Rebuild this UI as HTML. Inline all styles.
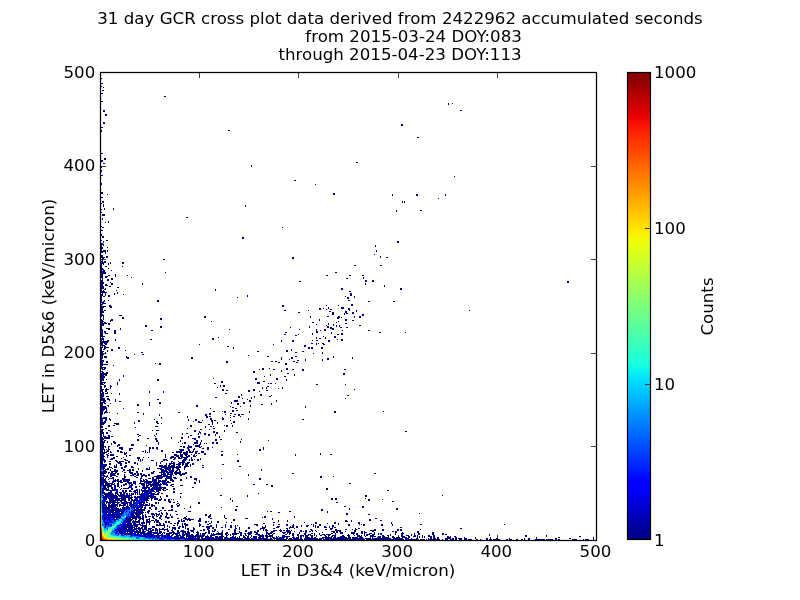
<!DOCTYPE html><html><head><meta charset="utf-8"><style>html,body{margin:0;padding:0;background:#fff;width:800px;height:600px;overflow:hidden}</style></head><body><svg width="800" height="600" viewBox="0 0 800 600" style="position:absolute;left:0;top:0"><defs><linearGradient id="jet" x1="0" y1="1" x2="0" y2="0"><stop offset="0.0000" stop-color="#000080"/><stop offset="0.0156" stop-color="#000092"/><stop offset="0.0312" stop-color="#0000a4"/><stop offset="0.0469" stop-color="#0000b6"/><stop offset="0.0625" stop-color="#0000c8"/><stop offset="0.0781" stop-color="#0000da"/><stop offset="0.0938" stop-color="#0000ed"/><stop offset="0.1094" stop-color="#0000ff"/><stop offset="0.1250" stop-color="#0001ff"/><stop offset="0.1406" stop-color="#0011ff"/><stop offset="0.1562" stop-color="#0021ff"/><stop offset="0.1719" stop-color="#0031ff"/><stop offset="0.1875" stop-color="#0041ff"/><stop offset="0.2031" stop-color="#0051ff"/><stop offset="0.2188" stop-color="#0061ff"/><stop offset="0.2344" stop-color="#0071ff"/><stop offset="0.2500" stop-color="#0081ff"/><stop offset="0.2656" stop-color="#0091ff"/><stop offset="0.2812" stop-color="#00a1ff"/><stop offset="0.2969" stop-color="#00b1ff"/><stop offset="0.3125" stop-color="#00c1ff"/><stop offset="0.3281" stop-color="#00d1ff"/><stop offset="0.3438" stop-color="#00e1fb"/><stop offset="0.3594" stop-color="#09f1ee"/><stop offset="0.3750" stop-color="#16ffe1"/><stop offset="0.3906" stop-color="#23ffd4"/><stop offset="0.4062" stop-color="#30ffc7"/><stop offset="0.4219" stop-color="#3cffba"/><stop offset="0.4375" stop-color="#49ffad"/><stop offset="0.4531" stop-color="#56ffa0"/><stop offset="0.4688" stop-color="#63ff94"/><stop offset="0.4844" stop-color="#70ff87"/><stop offset="0.5000" stop-color="#7dff7a"/><stop offset="0.5156" stop-color="#8aff6d"/><stop offset="0.5312" stop-color="#97ff60"/><stop offset="0.5469" stop-color="#a4ff53"/><stop offset="0.5625" stop-color="#b1ff46"/><stop offset="0.5781" stop-color="#beff39"/><stop offset="0.5938" stop-color="#caff2c"/><stop offset="0.6094" stop-color="#d7ff1f"/><stop offset="0.6250" stop-color="#e4ff13"/><stop offset="0.6406" stop-color="#f1fc06"/><stop offset="0.6562" stop-color="#feed00"/><stop offset="0.6719" stop-color="#ffde00"/><stop offset="0.6875" stop-color="#ffd000"/><stop offset="0.7031" stop-color="#ffc100"/><stop offset="0.7188" stop-color="#ffb200"/><stop offset="0.7344" stop-color="#ffa300"/><stop offset="0.7500" stop-color="#ff9400"/><stop offset="0.7656" stop-color="#ff8600"/><stop offset="0.7812" stop-color="#ff7700"/><stop offset="0.7969" stop-color="#ff6800"/><stop offset="0.8125" stop-color="#ff5900"/><stop offset="0.8281" stop-color="#ff4a00"/><stop offset="0.8438" stop-color="#ff3b00"/><stop offset="0.8594" stop-color="#ff2d00"/><stop offset="0.8750" stop-color="#ff1e00"/><stop offset="0.8906" stop-color="#fa0f00"/><stop offset="0.9062" stop-color="#e80000"/><stop offset="0.9219" stop-color="#d60000"/><stop offset="0.9375" stop-color="#c40000"/><stop offset="0.9531" stop-color="#b20000"/><stop offset="0.9688" stop-color="#9f0000"/><stop offset="0.9844" stop-color="#8d0000"/><stop offset="1.0000" stop-color="#800000"/></linearGradient></defs><rect x="0" y="0" width="800" height="600" fill="#fff"/><g shape-rendering="crispEdges"><path fill="#000080" d="M101 78h1v1h-1zM101 83h2v1h-2zM101 86h1v1h-1zM103 87h1v1h-1zM102 90h2v1h-2zM101 93h2v1h-2zM164 96h2v1h-2zM101 101h2v1h-2zM448 103h1v1h-1zM452 103h1v1h-1zM448 104h1v1h-1zM103 110h2v1h-2zM460 110h2v1h-2zM103 111h2v1h-2zM105 114h2v1h-2zM105 115h2v1h-2zM401 124h2v1h-2zM401 125h2v1h-2zM101 127h2v1h-2zM100 130h2v1h-2zM228 130h2v1h-2zM101 131h1v1h-1zM417 137h2v1h-2zM101 153h2v1h-2zM104 158h2v1h-2zM104 159h2v1h-2zM101 160h2v1h-2zM101 161h2v1h-2zM356 162h2v1h-2zM103 163h2v1h-2zM251 165h1v1h-1zM251 166h1v1h-1zM101 167h1v1h-1zM101 170h1v1h-1zM101 171h1v1h-1zM454 176h1v1h-1zM294 180h2v1h-2zM101 183h1v1h-1zM101 184h1v1h-1zM315 184h1v1h-1zM101 192h2v1h-2zM101 193h2v1h-2zM333 193h2v1h-2zM107 194h1v1h-1zM333 194h2v1h-2zM392 194h1v1h-1zM416 194h2v1h-2zM445 194h1v1h-1zM392 195h1v1h-1zM416 195h2v1h-2zM445 195h1v1h-1zM101 197h2v1h-2zM438 198h1v1h-1zM102 201h2v1h-2zM402 201h1v1h-1zM404 201h1v1h-1zM102 202h2v1h-2zM402 202h1v1h-1zM404 202h1v1h-1zM101 203h1v1h-1zM103 204h1v1h-1zM103 205h1v1h-1zM245 205h1v1h-1zM103 206h1v1h-1zM245 206h1v1h-1zM104 208h1v1h-1zM113 208h1v1h-1zM101 209h1v1h-1zM104 209h1v1h-1zM113 209h1v1h-1zM396 210h1v1h-1zM420 210h2v1h-2zM396 211h1v1h-1zM101 212h1v1h-1zM102 214h3v1h-3zM102 215h3v1h-3zM186 217h2v1h-2zM102 218h1v1h-1zM102 219h1v1h-1zM108 221h1v1h-1zM105 222h1v1h-1zM108 222h1v1h-1zM101 226h1v1h-1zM102 227h2v1h-2zM282 227h1v1h-1zM101 230h2v1h-2zM101 234h1v1h-1zM101 235h1v1h-1zM102 236h2v1h-2zM102 237h2v1h-2zM242 237h2v1h-2zM242 238h2v1h-2zM101 240h1v1h-1zM106 240h2v1h-2zM103 241h1v1h-1zM397 241h2v1h-2zM103 242h1v1h-1zM397 242h2v1h-2zM101 243h2v1h-2zM101 244h3v1h-3zM101 245h1v1h-1zM103 245h1v1h-1zM375 245h1v1h-1zM101 246h1v1h-1zM375 246h1v1h-1zM101 247h2v1h-2zM107 247h1v1h-1zM101 248h2v1h-2zM101 249h1v1h-1zM101 250h1v1h-1zM103 250h3v1h-3zM107 250h1v1h-1zM376 250h1v1h-1zM101 251h5v1h-5zM107 251h1v1h-1zM376 251h1v1h-1zM101 252h2v1h-2zM105 252h1v1h-1zM105 253h1v1h-1zM374 254h1v1h-1zM101 255h2v1h-2zM101 256h2v1h-2zM106 256h2v1h-2zM380 256h1v1h-1zM101 257h4v1h-4zM106 257h2v1h-2zM292 257h2v1h-2zM380 257h1v1h-1zM386 257h2v1h-2zM102 258h2v1h-2zM292 258h2v1h-2zM101 259h2v1h-2zM163 259h2v1h-2zM102 260h1v1h-1zM101 261h2v1h-2zM104 261h2v1h-2zM101 262h5v1h-5zM110 262h1v1h-1zM122 262h2v1h-2zM101 263h3v1h-3zM108 263h1v1h-1zM110 263h1v1h-1zM122 263h2v1h-2zM101 264h1v1h-1zM103 264h1v1h-1zM108 264h1v1h-1zM101 265h1v1h-1zM354 265h2v1h-2zM380 265h2v1h-2zM101 266h1v1h-1zM105 266h2v1h-2zM122 266h1v1h-1zM101 267h1v1h-1zM101 268h2v1h-2zM108 268h1v1h-1zM101 269h3v1h-3zM101 270h1v1h-1zM103 270h2v1h-2zM111 270h1v1h-1zM101 271h4v1h-4zM101 272h5v1h-5zM165 272h1v1h-1zM335 272h2v1h-2zM101 273h5v1h-5zM101 274h2v1h-2zM115 274h1v1h-1zM101 275h2v1h-2zM108 275h2v1h-2zM115 275h1v1h-1zM127 275h1v1h-1zM326 275h2v1h-2zM349 275h2v1h-2zM362 275h2v1h-2zM101 276h2v1h-2zM105 276h3v1h-3zM115 276h1v1h-1zM101 277h2v1h-2zM105 277h2v1h-2zM131 277h1v1h-1zM363 277h1v1h-1zM102 278h1v1h-1zM111 278h2v1h-2zM346 278h2v1h-2zM363 278h1v1h-1zM102 279h1v1h-1zM107 279h2v1h-2zM111 279h2v1h-2zM101 280h2v1h-2zM107 280h2v1h-2zM365 280h2v1h-2zM372 280h2v1h-2zM101 281h2v1h-2zM299 281h2v1h-2zM365 281h2v1h-2zM372 281h2v1h-2zM567 281h2v1h-2zM101 282h3v1h-3zM110 282h1v1h-1zM567 282h2v1h-2zM101 283h3v1h-3zM111 283h2v1h-2zM142 283h1v1h-1zM365 283h1v1h-1zM101 284h2v1h-2zM105 284h2v1h-2zM111 284h2v1h-2zM142 284h1v1h-1zM365 284h1v1h-1zM101 285h2v1h-2zM105 285h3v1h-3zM384 285h1v1h-1zM101 286h3v1h-3zM109 286h2v1h-2zM384 286h1v1h-1zM101 287h3v1h-3zM117 287h2v1h-2zM101 288h3v1h-3zM105 288h1v1h-1zM341 288h2v1h-2zM400 288h2v1h-2zM101 289h1v1h-1zM104 289h2v1h-2zM215 289h1v1h-1zM341 289h2v1h-2zM400 289h2v1h-2zM101 290h1v1h-1zM103 290h1v1h-1zM116 290h1v1h-1zM215 290h1v1h-1zM101 291h4v1h-4zM349 291h2v1h-2zM101 292h6v1h-6zM117 292h1v1h-1zM102 293h1v1h-1zM105 293h1v1h-1zM114 293h1v1h-1zM117 293h1v1h-1zM350 293h2v1h-2zM101 294h2v1h-2zM105 294h1v1h-1zM114 294h1v1h-1zM123 294h1v1h-1zM350 294h2v1h-2zM101 295h2v1h-2zM105 295h1v1h-1zM108 295h2v1h-2zM247 295h1v1h-1zM350 295h2v1h-2zM101 296h1v1h-1zM103 296h2v1h-2zM108 296h2v1h-2zM247 296h1v1h-1zM345 296h1v1h-1zM354 296h1v1h-1zM101 297h1v1h-1zM237 297h1v1h-1zM347 297h2v1h-2zM354 297h1v1h-1zM101 298h1v1h-1zM347 298h2v1h-2zM101 299h1v1h-1zM101 300h1v1h-1zM104 300h1v1h-1zM108 300h1v1h-1zM157 300h2v1h-2zM348 300h2v1h-2zM101 301h1v1h-1zM103 301h2v1h-2zM157 301h2v1h-2zM368 301h2v1h-2zM393 301h2v1h-2zM101 302h3v1h-3zM102 303h4v1h-4zM101 304h2v1h-2zM351 304h2v1h-2zM101 305h1v1h-1zM109 305h2v1h-2zM282 305h2v1h-2zM326 305h1v1h-1zM338 305h1v1h-1zM351 305h2v1h-2zM101 306h5v1h-5zM109 306h3v1h-3zM282 306h2v1h-2zM101 307h3v1h-3zM110 307h2v1h-2zM328 307h1v1h-1zM341 307h3v1h-3zM101 308h2v1h-2zM319 308h2v1h-2zM323 308h1v1h-1zM328 308h1v1h-1zM341 308h3v1h-3zM348 308h2v1h-2zM101 309h2v1h-2zM319 309h2v1h-2zM326 309h1v1h-1zM330 309h2v1h-2zM348 309h2v1h-2zM101 310h2v1h-2zM104 310h2v1h-2zM284 310h2v1h-2zM308 310h1v1h-1zM349 310h1v1h-1zM356 310h1v1h-1zM469 310h1v1h-1zM101 311h3v1h-3zM329 311h2v1h-2zM345 311h2v1h-2zM356 311h1v1h-1zM101 312h3v1h-3zM298 312h2v1h-2zM332 312h2v1h-2zM345 312h2v1h-2zM352 312h2v1h-2zM101 313h1v1h-1zM332 313h2v1h-2zM344 313h1v1h-1zM346 313h2v1h-2zM352 313h2v1h-2zM101 314h2v1h-2zM332 314h2v1h-2zM344 314h1v1h-1zM362 314h2v1h-2zM101 315h3v1h-3zM119 315h3v1h-3zM362 315h2v1h-2zM101 316h1v1h-1zM103 316h1v1h-1zM204 316h2v1h-2zM310 316h1v1h-1zM327 316h2v1h-2zM338 316h2v1h-2zM354 316h1v1h-1zM359 316h2v1h-2zM103 317h1v1h-1zM122 317h2v1h-2zM204 317h2v1h-2zM310 317h1v1h-1zM337 317h3v1h-3zM341 317h1v1h-1zM354 317h1v1h-1zM359 317h2v1h-2zM103 318h1v1h-1zM122 318h2v1h-2zM160 318h2v1h-2zM337 318h2v1h-2zM101 319h1v1h-1zM103 319h1v1h-1zM111 319h2v1h-2zM160 319h2v1h-2zM319 319h1v1h-1zM345 319h2v1h-2zM101 320h2v1h-2zM110 320h3v1h-3zM319 320h1v1h-1zM345 320h2v1h-2zM352 320h2v1h-2zM101 321h3v1h-3zM110 321h1v1h-1zM211 321h1v1h-1zM338 321h1v1h-1zM101 322h2v1h-2zM104 322h2v1h-2zM312 322h2v1h-2zM336 322h1v1h-1zM101 323h6v1h-6zM108 323h2v1h-2zM328 323h1v1h-1zM345 323h2v1h-2zM101 324h3v1h-3zM108 324h2v1h-2zM316 324h1v1h-1zM328 324h1v1h-1zM101 325h3v1h-3zM145 325h2v1h-2zM336 325h1v1h-1zM359 325h2v1h-2zM101 326h1v1h-1zM145 326h2v1h-2zM160 326h2v1h-2zM309 326h1v1h-1zM327 326h2v1h-2zM336 326h1v1h-1zM101 327h1v1h-1zM160 327h2v1h-2zM290 327h1v1h-1zM309 327h1v1h-1zM327 327h2v1h-2zM330 327h2v1h-2zM340 327h2v1h-2zM346 327h2v1h-2zM101 328h1v1h-1zM106 328h4v1h-4zM120 328h1v1h-1zM330 328h4v1h-4zM101 329h2v1h-2zM108 329h2v1h-2zM120 329h1v1h-1zM229 329h1v1h-1zM299 329h1v1h-1zM316 329h1v1h-1zM324 329h2v1h-2zM332 329h2v1h-2zM101 330h2v1h-2zM114 330h2v1h-2zM151 330h2v1h-2zM316 330h1v1h-1zM320 330h1v1h-1zM324 330h2v1h-2zM342 330h1v1h-1zM368 330h2v1h-2zM104 331h2v1h-2zM114 331h2v1h-2zM316 331h2v1h-2zM104 332h2v1h-2zM114 332h2v1h-2zM285 332h2v1h-2zM316 332h2v1h-2zM331 332h1v1h-1zM379 332h2v1h-2zM405 332h1v1h-1zM101 333h2v1h-2zM105 333h3v1h-3zM114 333h2v1h-2zM312 333h1v1h-1zM331 333h1v1h-1zM341 333h2v1h-2zM101 334h2v1h-2zM284 334h2v1h-2zM298 334h1v1h-1zM312 334h1v1h-1zM337 334h2v1h-2zM341 334h2v1h-2zM101 335h2v1h-2zM101 336h4v1h-4zM323 336h1v1h-1zM334 336h2v1h-2zM102 337h1v1h-1zM218 337h1v1h-1zM316 337h1v1h-1zM325 337h1v1h-1zM334 337h2v1h-2zM101 338h3v1h-3zM212 338h2v1h-2zM316 338h1v1h-1zM319 338h2v1h-2zM325 338h1v1h-1zM101 339h3v1h-3zM115 339h1v1h-1zM150 339h2v1h-2zM212 339h2v1h-2zM337 339h1v1h-1zM341 339h2v1h-2zM101 340h1v1h-1zM103 340h1v1h-1zM107 340h2v1h-2zM115 340h1v1h-1zM281 340h1v1h-1zM292 340h2v1h-2zM312 340h1v1h-1zM316 340h2v1h-2zM328 340h2v1h-2zM341 340h2v1h-2zM101 341h8v1h-8zM281 341h1v1h-1zM292 341h2v1h-2zM328 341h2v1h-2zM101 342h7v1h-7zM101 343h2v1h-2zM104 343h3v1h-3zM316 343h1v1h-1zM318 343h1v1h-1zM322 343h2v1h-2zM101 344h2v1h-2zM105 344h2v1h-2zM199 344h1v1h-1zM273 344h1v1h-1zM316 344h1v1h-1zM323 344h2v1h-2zM101 345h4v1h-4zM304 345h2v1h-2zM102 346h1v1h-1zM104 346h2v1h-2zM227 346h2v1h-2zM304 346h2v1h-2zM101 347h2v1h-2zM104 347h5v1h-5zM118 347h2v1h-2zM233 347h1v1h-1zM308 347h2v1h-2zM311 347h2v1h-2zM321 347h2v1h-2zM104 348h2v1h-2zM118 348h2v1h-2zM233 348h1v1h-1zM308 348h2v1h-2zM311 348h2v1h-2zM321 348h2v1h-2zM101 349h1v1h-1zM103 349h2v1h-2zM111 349h2v1h-2zM291 349h1v1h-1zM101 350h1v1h-1zM107 350h1v1h-1zM111 350h2v1h-2zM125 350h1v1h-1zM286 350h2v1h-2zM291 350h1v1h-1zM101 351h3v1h-3zM107 351h1v1h-1zM257 351h2v1h-2zM286 351h2v1h-2zM302 351h2v1h-2zM101 352h2v1h-2zM105 352h1v1h-1zM141 352h2v1h-2zM295 352h2v1h-2zM322 352h1v1h-1zM101 353h2v1h-2zM105 353h1v1h-1zM313 353h1v1h-1zM322 353h1v1h-1zM101 354h3v1h-3zM134 354h1v1h-1zM142 354h2v1h-2zM101 355h2v1h-2zM248 355h1v1h-1zM101 356h2v1h-2zM104 356h3v1h-3zM126 356h1v1h-1zM267 356h2v1h-2zM295 356h2v1h-2zM333 356h1v1h-1zM101 357h2v1h-2zM104 357h3v1h-3zM126 357h3v1h-3zM191 357h2v1h-2zM281 357h1v1h-1zM291 357h2v1h-2zM333 357h1v1h-1zM352 357h1v1h-1zM101 358h2v1h-2zM127 358h2v1h-2zM191 358h2v1h-2zM281 358h1v1h-1zM291 358h2v1h-2zM327 358h2v1h-2zM352 358h1v1h-1zM101 359h1v1h-1zM281 359h1v1h-1zM289 359h1v1h-1zM305 359h1v1h-1zM322 359h1v1h-1zM327 359h2v1h-2zM101 360h3v1h-3zM297 360h2v1h-2zM305 360h1v1h-1zM322 360h1v1h-1zM101 361h3v1h-3zM106 361h2v1h-2zM226 361h2v1h-2zM271 361h2v1h-2zM275 361h2v1h-2zM293 361h2v1h-2zM101 362h2v1h-2zM106 362h2v1h-2zM226 362h2v1h-2zM278 362h2v1h-2zM296 362h2v1h-2zM101 363h2v1h-2zM155 363h1v1h-1zM159 363h2v1h-2zM285 363h2v1h-2zM101 364h7v1h-7zM159 364h2v1h-2zM285 364h2v1h-2zM101 365h2v1h-2zM113 365h1v1h-1zM101 366h1v1h-1zM101 367h5v1h-5zM101 368h2v1h-2zM104 368h2v1h-2zM262 368h2v1h-2zM269 368h1v1h-1zM286 368h2v1h-2zM102 369h3v1h-3zM259 369h1v1h-1zM262 369h2v1h-2zM273 369h2v1h-2zM286 369h2v1h-2zM292 369h2v1h-2zM302 369h2v1h-2zM344 369h2v1h-2zM281 370h1v1h-1zM302 370h2v1h-2zM101 371h2v1h-2zM253 371h2v1h-2zM281 371h1v1h-1zM102 372h2v1h-2zM106 372h2v1h-2zM253 372h2v1h-2zM101 373h7v1h-7zM287 373h2v1h-2zM343 373h2v1h-2zM101 374h6v1h-6zM270 374h1v1h-1zM294 374h1v1h-1zM343 374h2v1h-2zM101 375h3v1h-3zM105 375h2v1h-2zM123 375h1v1h-1zM270 375h1v1h-1zM294 375h1v1h-1zM101 376h4v1h-4zM123 376h1v1h-1zM264 376h1v1h-1zM284 376h2v1h-2zM101 377h4v1h-4zM101 378h3v1h-3zM213 378h1v1h-1zM255 378h2v1h-2zM276 378h2v1h-2zM101 379h3v1h-3zM106 379h1v1h-1zM119 379h1v1h-1zM157 379h2v1h-2zM255 379h2v1h-2zM276 379h2v1h-2zM286 379h1v1h-1zM101 380h3v1h-3zM119 380h1v1h-1zM157 380h2v1h-2zM286 380h1v1h-1zM101 381h1v1h-1zM221 381h2v1h-2zM263 381h2v1h-2zM101 382h5v1h-5zM117 382h1v1h-1zM221 382h2v1h-2zM257 382h3v1h-3zM101 383h2v1h-2zM104 383h1v1h-1zM117 383h1v1h-1zM214 383h2v1h-2zM257 383h3v1h-3zM268 383h1v1h-1zM270 383h2v1h-2zM275 383h1v1h-1zM101 384h3v1h-3zM117 384h1v1h-1zM316 384h2v1h-2zM345 384h1v1h-1zM104 385h2v1h-2zM110 385h1v1h-1zM220 385h1v1h-1zM223 385h2v1h-2zM101 386h1v1h-1zM104 386h2v1h-2zM110 386h2v1h-2zM220 386h1v1h-1zM223 386h2v1h-2zM267 386h2v1h-2zM101 387h1v1h-1zM104 387h1v1h-1zM110 387h1v1h-1zM217 387h1v1h-1zM262 387h1v1h-1zM266 387h1v1h-1zM282 387h1v1h-1zM101 388h1v1h-1zM106 388h1v1h-1zM110 388h1v1h-1zM262 388h1v1h-1zM266 388h1v1h-1zM278 388h1v1h-1zM282 388h1v1h-1zM101 389h3v1h-3zM105 389h4v1h-4zM222 389h2v1h-2zM253 389h2v1h-2zM354 389h1v1h-1zM101 390h2v1h-2zM105 390h2v1h-2zM222 390h2v1h-2zM226 390h2v1h-2zM248 390h2v1h-2zM253 390h2v1h-2zM266 390h2v1h-2zM101 391h2v1h-2zM105 391h2v1h-2zM149 391h1v1h-1zM163 391h1v1h-1zM248 391h2v1h-2zM259 391h1v1h-1zM102 392h2v1h-2zM107 392h1v1h-1zM149 392h1v1h-1zM163 392h1v1h-1zM101 393h3v1h-3zM105 393h3v1h-3zM111 393h1v1h-1zM119 393h1v1h-1zM225 393h2v1h-2zM101 394h3v1h-3zM119 394h1v1h-1zM241 394h1v1h-1zM260 394h2v1h-2zM101 395h3v1h-3zM241 395h1v1h-1zM260 395h2v1h-2zM271 395h1v1h-1zM347 395h2v1h-2zM101 396h3v1h-3zM106 396h3v1h-3zM238 396h2v1h-2zM254 396h1v1h-1zM269 396h2v1h-2zM101 397h2v1h-2zM215 397h2v1h-2zM238 397h2v1h-2zM251 397h1v1h-1zM254 397h1v1h-1zM101 398h4v1h-4zM107 398h2v1h-2zM242 398h1v1h-1zM251 398h1v1h-1zM345 398h1v1h-1zM101 399h4v1h-4zM107 399h3v1h-3zM115 399h1v1h-1zM157 399h2v1h-2zM247 399h1v1h-1zM101 400h5v1h-5zM109 400h1v1h-1zM115 400h1v1h-1zM234 400h4v1h-4zM249 400h2v1h-2zM276 400h1v1h-1zM103 401h3v1h-3zM115 401h1v1h-1zM119 401h2v1h-2zM234 401h4v1h-4zM249 401h2v1h-2zM276 401h1v1h-1zM102 402h3v1h-3zM149 402h1v1h-1zM159 402h2v1h-2zM231 402h1v1h-1zM243 402h2v1h-2zM101 403h2v1h-2zM104 403h2v1h-2zM110 403h1v1h-1zM149 403h1v1h-1zM159 403h2v1h-2zM231 403h1v1h-1zM237 403h2v1h-2zM243 403h2v1h-2zM271 403h1v1h-1zM101 404h2v1h-2zM137 404h2v1h-2zM149 404h1v1h-1zM237 404h2v1h-2zM261 404h2v1h-2zM271 404h1v1h-1zM101 405h2v1h-2zM107 405h2v1h-2zM137 405h2v1h-2zM149 405h1v1h-1zM196 405h2v1h-2zM250 405h1v1h-1zM101 406h5v1h-5zM108 406h1v1h-1zM196 406h2v1h-2zM230 406h1v1h-1zM240 406h1v1h-1zM250 406h1v1h-1zM305 406h1v1h-1zM101 407h6v1h-6zM232 407h2v1h-2zM305 407h1v1h-1zM101 408h4v1h-4zM106 408h1v1h-1zM123 408h1v1h-1zM210 408h1v1h-1zM235 408h2v1h-2zM102 409h3v1h-3zM106 409h1v1h-1zM102 410h2v1h-2zM106 410h1v1h-1zM232 410h2v1h-2zM236 410h2v1h-2zM101 411h2v1h-2zM105 411h2v1h-2zM213 411h2v1h-2zM222 411h1v1h-1zM224 411h2v1h-2zM232 411h2v1h-2zM249 411h1v1h-1zM334 411h2v1h-2zM383 411h1v1h-1zM101 412h2v1h-2zM104 412h4v1h-4zM109 412h1v1h-1zM137 412h2v1h-2zM178 412h2v1h-2zM224 412h2v1h-2zM249 412h1v1h-1zM334 412h2v1h-2zM101 413h2v1h-2zM104 413h1v1h-1zM117 413h1v1h-1zM143 413h1v1h-1zM209 413h2v1h-2zM230 413h2v1h-2zM101 414h2v1h-2zM143 414h1v1h-1zM159 414h1v1h-1zM205 414h2v1h-2zM209 414h2v1h-2zM225 414h1v1h-1zM234 414h2v1h-2zM238 414h2v1h-2zM241 414h3v1h-3zM159 415h1v1h-1zM205 415h2v1h-2zM230 415h1v1h-1zM238 415h2v1h-2zM187 416h1v1h-1zM206 416h2v1h-2zM233 416h2v1h-2zM240 416h1v1h-1zM101 417h1v1h-1zM103 417h4v1h-4zM161 417h1v1h-1zM187 417h1v1h-1zM206 417h2v1h-2zM222 417h1v1h-1zM230 417h1v1h-1zM101 418h6v1h-6zM109 418h1v1h-1zM161 418h1v1h-1zM210 418h2v1h-2zM222 418h2v1h-2zM248 418h1v1h-1zM101 419h2v1h-2zM105 419h2v1h-2zM109 419h2v1h-2zM154 419h1v1h-1zM188 419h1v1h-1zM195 419h2v1h-2zM210 419h2v1h-2zM222 419h2v1h-2zM248 419h1v1h-1zM302 419h2v1h-2zM101 420h2v1h-2zM105 420h2v1h-2zM110 420h1v1h-1zM138 420h2v1h-2zM188 420h1v1h-1zM195 420h2v1h-2zM202 420h1v1h-1zM211 420h2v1h-2zM214 420h2v1h-2zM230 420h1v1h-1zM104 421h2v1h-2zM138 421h2v1h-2zM156 421h2v1h-2zM193 421h1v1h-1zM198 421h2v1h-2zM211 421h2v1h-2zM233 421h2v1h-2zM103 422h3v1h-3zM134 422h1v1h-1zM156 422h2v1h-2zM198 422h4v1h-4zM212 422h1v1h-1zM217 422h1v1h-1zM233 422h2v1h-2zM101 423h4v1h-4zM114 423h5v1h-5zM134 423h1v1h-1zM157 423h2v1h-2zM161 423h1v1h-1zM212 423h1v1h-1zM217 423h1v1h-1zM231 423h1v1h-1zM101 424h3v1h-3zM116 424h3v1h-3zM208 424h2v1h-2zM212 424h1v1h-1zM101 425h1v1h-1zM108 425h2v1h-2zM113 425h2v1h-2zM190 425h2v1h-2zM224 425h1v1h-1zM226 425h2v1h-2zM232 425h1v1h-1zM101 426h2v1h-2zM108 426h2v1h-2zM155 426h3v1h-3zM190 426h2v1h-2zM205 426h1v1h-1zM210 426h2v1h-2zM213 426h1v1h-1zM226 426h2v1h-2zM232 426h1v1h-1zM101 427h2v1h-2zM135 427h1v1h-1zM205 427h1v1h-1zM105 428h2v1h-2zM187 428h1v1h-1zM213 428h2v1h-2zM102 429h2v1h-2zM200 429h2v1h-2zM209 429h1v1h-1zM102 430h1v1h-1zM108 430h2v1h-2zM152 430h1v1h-1zM156 430h3v1h-3zM194 430h2v1h-2zM224 430h1v1h-1zM101 431h2v1h-2zM110 431h1v1h-1zM194 431h2v1h-2zM199 431h1v1h-1zM213 431h2v1h-2zM224 431h1v1h-1zM405 431h2v1h-2zM101 432h3v1h-3zM106 432h2v1h-2zM199 432h2v1h-2zM213 432h2v1h-2zM216 432h2v1h-2zM236 432h2v1h-2zM101 433h3v1h-3zM106 433h2v1h-2zM156 433h1v1h-1zM182 433h1v1h-1zM186 433h2v1h-2zM198 433h1v1h-1zM200 433h1v1h-1zM204 433h2v1h-2zM216 433h2v1h-2zM101 434h1v1h-1zM103 434h1v1h-1zM137 434h2v1h-2zM156 434h1v1h-1zM182 434h1v1h-1zM198 434h1v1h-1zM204 434h2v1h-2zM208 434h2v1h-2zM215 434h1v1h-1zM101 435h1v1h-1zM103 435h1v1h-1zM108 435h2v1h-2zM139 435h2v1h-2zM154 435h1v1h-1zM190 435h2v1h-2zM208 435h2v1h-2zM215 435h1v1h-1zM101 436h1v1h-1zM103 436h3v1h-3zM108 436h2v1h-2zM111 436h2v1h-2zM138 436h1v1h-1zM155 436h1v1h-1zM188 436h1v1h-1zM198 436h2v1h-2zM219 436h1v1h-1zM102 437h1v1h-1zM104 437h6v1h-6zM171 437h1v1h-1zM181 437h2v1h-2zM188 437h1v1h-1zM198 437h2v1h-2zM219 437h1v1h-1zM101 438h9v1h-9zM147 438h2v1h-2zM155 438h2v1h-2zM171 438h1v1h-1zM181 438h2v1h-2zM192 438h4v1h-4zM101 439h3v1h-3zM137 439h2v1h-2zM155 439h2v1h-2zM194 439h2v1h-2zM215 439h2v1h-2zM220 439h2v1h-2zM241 439h1v1h-1zM101 440h2v1h-2zM104 440h2v1h-2zM137 440h2v1h-2zM156 440h2v1h-2zM180 440h1v1h-1zM196 440h2v1h-2zM201 440h1v1h-1zM215 440h2v1h-2zM268 440h1v1h-1zM101 441h4v1h-4zM107 441h1v1h-1zM113 441h2v1h-2zM156 441h2v1h-2zM180 441h1v1h-1zM196 441h2v1h-2zM201 441h1v1h-1zM240 441h1v1h-1zM101 442h4v1h-4zM107 442h1v1h-1zM113 442h3v1h-3zM158 442h1v1h-1zM178 442h1v1h-1zM184 442h2v1h-2zM194 442h4v1h-4zM200 442h1v1h-1zM212 442h2v1h-2zM216 442h2v1h-2zM240 442h1v1h-1zM101 443h3v1h-3zM111 443h1v1h-1zM114 443h2v1h-2zM158 443h1v1h-1zM182 443h1v1h-1zM184 443h2v1h-2zM194 443h4v1h-4zM200 443h1v1h-1zM204 443h1v1h-1zM206 443h1v1h-1zM212 443h2v1h-2zM216 443h2v1h-2zM101 444h3v1h-3zM111 444h1v1h-1zM118 444h2v1h-2zM131 444h3v1h-3zM158 444h1v1h-1zM193 444h1v1h-1zM199 444h2v1h-2zM101 445h3v1h-3zM117 445h3v1h-3zM131 445h3v1h-3zM146 445h1v1h-1zM188 445h1v1h-1zM195 445h5v1h-5zM101 446h3v1h-3zM105 446h1v1h-1zM108 446h2v1h-2zM117 446h1v1h-1zM180 446h2v1h-2zM183 446h2v1h-2zM188 446h4v1h-4zM195 446h5v1h-5zM201 446h1v1h-1zM102 447h2v1h-2zM105 447h1v1h-1zM108 447h1v1h-1zM119 447h4v1h-4zM149 447h2v1h-2zM152 447h2v1h-2zM156 447h2v1h-2zM183 447h2v1h-2zM187 447h5v1h-5zM199 447h2v1h-2zM207 447h2v1h-2zM212 447h1v1h-1zM263 447h1v1h-1zM101 448h3v1h-3zM108 448h1v1h-1zM119 448h4v1h-4zM129 448h4v1h-4zM149 448h2v1h-2zM152 448h2v1h-2zM156 448h2v1h-2zM187 448h2v1h-2zM194 448h1v1h-1zM202 448h2v1h-2zM207 448h2v1h-2zM263 448h1v1h-1zM102 449h3v1h-3zM106 449h1v1h-1zM108 449h2v1h-2zM121 449h2v1h-2zM129 449h2v1h-2zM149 449h1v1h-1zM157 449h1v1h-1zM179 449h5v1h-5zM188 449h2v1h-2zM193 449h2v1h-2zM207 449h2v1h-2zM259 449h2v1h-2zM263 449h1v1h-1zM102 450h1v1h-1zM104 450h1v1h-1zM107 450h2v1h-2zM117 450h2v1h-2zM129 450h2v1h-2zM145 450h1v1h-1zM149 450h1v1h-1zM161 450h2v1h-2zM180 450h4v1h-4zM188 450h2v1h-2zM193 450h1v1h-1zM259 450h2v1h-2zM101 451h2v1h-2zM104 451h1v1h-1zM106 451h3v1h-3zM110 451h1v1h-1zM117 451h2v1h-2zM120 451h2v1h-2zM142 451h2v1h-2zM145 451h1v1h-1zM149 451h1v1h-1zM161 451h2v1h-2zM176 451h6v1h-6zM186 451h2v1h-2zM189 451h2v1h-2zM192 451h2v1h-2zM195 451h3v1h-3zM201 451h3v1h-3zM221 451h2v1h-2zM102 452h5v1h-5zM110 452h2v1h-2zM120 452h3v1h-3zM124 452h1v1h-1zM126 452h1v1h-1zM145 452h1v1h-1zM147 452h1v1h-1zM149 452h1v1h-1zM172 452h2v1h-2zM176 452h6v1h-6zM183 452h5v1h-5zM189 452h4v1h-4zM195 452h2v1h-2zM201 452h3v1h-3zM101 453h4v1h-4zM108 453h1v1h-1zM124 453h3v1h-3zM180 453h1v1h-1zM183 453h5v1h-5zM195 453h2v1h-2zM198 453h2v1h-2zM204 453h2v1h-2zM320 453h1v1h-1zM101 454h3v1h-3zM106 454h2v1h-2zM110 454h4v1h-4zM124 454h2v1h-2zM165 454h1v1h-1zM174 454h3v1h-3zM180 454h3v1h-3zM184 454h4v1h-4zM191 454h1v1h-1zM194 454h1v1h-1zM204 454h2v1h-2zM221 454h2v1h-2zM237 454h1v1h-1zM295 454h1v1h-1zM320 454h1v1h-1zM330 454h2v1h-2zM101 455h3v1h-3zM107 455h2v1h-2zM110 455h4v1h-4zM126 455h1v1h-1zM129 455h2v1h-2zM165 455h1v1h-1zM174 455h5v1h-5zM180 455h3v1h-3zM185 455h2v1h-2zM188 455h2v1h-2zM193 455h2v1h-2zM196 455h1v1h-1zM221 455h2v1h-2zM295 455h1v1h-1zM101 456h4v1h-4zM107 456h1v1h-1zM116 456h2v1h-2zM126 456h1v1h-1zM165 456h1v1h-1zM171 456h3v1h-3zM176 456h3v1h-3zM180 456h3v1h-3zM186 456h4v1h-4zM193 456h3v1h-3zM101 457h3v1h-3zM107 457h1v1h-1zM113 457h2v1h-2zM123 457h1v1h-1zM137 457h3v1h-3zM143 457h1v1h-1zM148 457h1v1h-1zM165 457h1v1h-1zM170 457h6v1h-6zM178 457h2v1h-2zM181 457h7v1h-7zM191 457h1v1h-1zM101 458h3v1h-3zM111 458h4v1h-4zM121 458h1v1h-1zM137 458h3v1h-3zM170 458h2v1h-2zM174 458h2v1h-2zM178 458h4v1h-4zM184 458h3v1h-3zM191 458h1v1h-1zM200 458h1v1h-1zM101 459h4v1h-4zM110 459h3v1h-3zM124 459h2v1h-2zM138 459h1v1h-1zM140 459h1v1h-1zM142 459h1v1h-1zM163 459h4v1h-4zM173 459h2v1h-2zM183 459h4v1h-4zM189 459h1v1h-1zM191 459h2v1h-2zM194 459h1v1h-1zM197 459h2v1h-2zM200 459h1v1h-1zM101 460h5v1h-5zM115 460h2v1h-2zM125 460h3v1h-3zM138 460h1v1h-1zM140 460h1v1h-1zM142 460h1v1h-1zM151 460h3v1h-3zM163 460h2v1h-2zM166 460h2v1h-2zM182 460h4v1h-4zM189 460h1v1h-1zM191 460h2v1h-2zM197 460h2v1h-2zM237 460h2v1h-2zM102 461h1v1h-1zM104 461h2v1h-2zM109 461h2v1h-2zM116 461h2v1h-2zM119 461h5v1h-5zM128 461h2v1h-2zM140 461h1v1h-1zM161 461h2v1h-2zM171 461h2v1h-2zM178 461h1v1h-1zM182 461h3v1h-3zM237 461h2v1h-2zM101 462h2v1h-2zM104 462h1v1h-1zM117 462h4v1h-4zM125 462h2v1h-2zM128 462h2v1h-2zM134 462h2v1h-2zM156 462h1v1h-1zM160 462h1v1h-1zM171 462h1v1h-1zM173 462h2v1h-2zM179 462h6v1h-6zM187 462h3v1h-3zM101 463h2v1h-2zM109 463h2v1h-2zM118 463h4v1h-4zM125 463h2v1h-2zM134 463h2v1h-2zM137 463h1v1h-1zM156 463h1v1h-1zM160 463h1v1h-1zM166 463h1v1h-1zM169 463h2v1h-2zM172 463h3v1h-3zM178 463h3v1h-3zM182 463h2v1h-2zM185 463h4v1h-4zM192 463h2v1h-2zM103 464h4v1h-4zM109 464h2v1h-2zM116 464h1v1h-1zM120 464h2v1h-2zM137 464h1v1h-1zM156 464h1v1h-1zM166 464h1v1h-1zM169 464h2v1h-2zM173 464h2v1h-2zM176 464h5v1h-5zM182 464h2v1h-2zM185 464h3v1h-3zM190 464h1v1h-1zM192 464h2v1h-2zM222 464h2v1h-2zM103 465h4v1h-4zM114 465h1v1h-1zM116 465h1v1h-1zM120 465h2v1h-2zM125 465h2v1h-2zM156 465h1v1h-1zM159 465h4v1h-4zM164 465h3v1h-3zM168 465h2v1h-2zM171 465h4v1h-4zM178 465h2v1h-2zM182 465h1v1h-1zM185 465h3v1h-3zM190 465h1v1h-1zM202 465h2v1h-2zM103 466h3v1h-3zM109 466h1v1h-1zM114 466h3v1h-3zM124 466h3v1h-3zM131 466h2v1h-2zM159 466h8v1h-8zM168 466h7v1h-7zM176 466h5v1h-5zM184 466h5v1h-5zM190 466h1v1h-1zM239 466h2v1h-2zM101 467h4v1h-4zM109 467h3v1h-3zM114 467h3v1h-3zM121 467h2v1h-2zM124 467h2v1h-2zM131 467h3v1h-3zM149 467h1v1h-1zM161 467h20v1h-20zM184 467h2v1h-2zM202 467h2v1h-2zM103 468h2v1h-2zM107 468h2v1h-2zM112 468h1v1h-1zM121 468h2v1h-2zM138 468h1v1h-1zM146 468h2v1h-2zM149 468h1v1h-1zM157 468h5v1h-5zM164 468h7v1h-7zM172 468h2v1h-2zM176 468h3v1h-3zM184 468h1v1h-1zM102 469h2v1h-2zM105 469h4v1h-4zM110 469h1v1h-1zM114 469h2v1h-2zM123 469h2v1h-2zM129 469h2v1h-2zM132 469h2v1h-2zM138 469h1v1h-1zM146 469h4v1h-4zM160 469h4v1h-4zM165 469h6v1h-6zM172 469h2v1h-2zM177 469h3v1h-3zM184 469h1v1h-1zM261 469h1v1h-1zM103 470h3v1h-3zM110 470h1v1h-1zM114 470h4v1h-4zM123 470h2v1h-2zM127 470h4v1h-4zM132 470h2v1h-2zM142 470h1v1h-1zM161 470h6v1h-6zM168 470h2v1h-2zM171 470h3v1h-3zM176 470h2v1h-2zM179 470h1v1h-1zM261 470h1v1h-1zM102 471h5v1h-5zM111 471h7v1h-7zM122 471h1v1h-1zM129 471h2v1h-2zM136 471h2v1h-2zM142 471h1v1h-1zM153 471h2v1h-2zM161 471h7v1h-7zM169 471h5v1h-5zM175 471h2v1h-2zM179 471h2v1h-2zM101 472h6v1h-6zM108 472h2v1h-2zM111 472h2v1h-2zM115 472h2v1h-2zM124 472h2v1h-2zM129 472h4v1h-4zM136 472h2v1h-2zM151 472h3v1h-3zM159 472h6v1h-6zM166 472h1v1h-1zM169 472h4v1h-4zM174 472h7v1h-7zM185 472h2v1h-2zM101 473h5v1h-5zM108 473h1v1h-1zM110 473h6v1h-6zM117 473h2v1h-2zM130 473h3v1h-3zM134 473h2v1h-2zM137 473h2v1h-2zM140 473h2v1h-2zM151 473h3v1h-3zM161 473h1v1h-1zM163 473h3v1h-3zM170 473h3v1h-3zM174 473h7v1h-7zM182 473h5v1h-5zM292 473h2v1h-2zM374 473h2v1h-2zM102 474h2v1h-2zM110 474h5v1h-5zM117 474h2v1h-2zM124 474h1v1h-1zM132 474h4v1h-4zM137 474h2v1h-2zM140 474h2v1h-2zM143 474h2v1h-2zM148 474h2v1h-2zM161 474h5v1h-5zM167 474h6v1h-6zM175 474h2v1h-2zM179 474h6v1h-6zM248 474h1v1h-1zM103 475h2v1h-2zM107 475h1v1h-1zM110 475h6v1h-6zM124 475h1v1h-1zM130 475h4v1h-4zM136 475h3v1h-3zM141 475h6v1h-6zM148 475h2v1h-2zM157 475h5v1h-5zM163 475h2v1h-2zM167 475h1v1h-1zM170 475h2v1h-2zM173 475h1v1h-1zM180 475h2v1h-2zM248 475h1v1h-1zM103 476h5v1h-5zM110 476h2v1h-2zM116 476h2v1h-2zM124 476h2v1h-2zM134 476h2v1h-2zM141 476h2v1h-2zM145 476h2v1h-2zM154 476h11v1h-11zM166 476h6v1h-6zM190 476h2v1h-2zM320 476h2v1h-2zM333 476h1v1h-1zM102 477h2v1h-2zM106 477h1v1h-1zM108 477h1v1h-1zM112 477h2v1h-2zM124 477h2v1h-2zM136 477h2v1h-2zM141 477h1v1h-1zM152 477h2v1h-2zM156 477h7v1h-7zM166 477h6v1h-6zM173 477h3v1h-3zM186 477h1v1h-1zM190 477h2v1h-2zM320 477h2v1h-2zM102 478h2v1h-2zM105 478h1v1h-1zM109 478h5v1h-5zM122 478h3v1h-3zM140 478h2v1h-2zM148 478h3v1h-3zM152 478h2v1h-2zM156 478h6v1h-6zM165 478h7v1h-7zM174 478h3v1h-3zM186 478h1v1h-1zM194 478h3v1h-3zM221 478h1v1h-1zM259 478h2v1h-2zM101 479h5v1h-5zM108 479h1v1h-1zM113 479h1v1h-1zM115 479h1v1h-1zM117 479h2v1h-2zM122 479h8v1h-8zM140 479h1v1h-1zM143 479h1v1h-1zM145 479h2v1h-2zM152 479h5v1h-5zM158 479h1v1h-1zM165 479h2v1h-2zM170 479h3v1h-3zM180 479h2v1h-2zM194 479h3v1h-3zM259 479h2v1h-2zM101 480h5v1h-5zM113 480h6v1h-6zM120 480h2v1h-2zM123 480h7v1h-7zM140 480h2v1h-2zM143 480h2v1h-2zM146 480h2v1h-2zM152 480h5v1h-5zM158 480h3v1h-3zM162 480h5v1h-5zM170 480h4v1h-4zM180 480h2v1h-2zM196 480h1v1h-1zM199 480h1v1h-1zM101 481h1v1h-1zM103 481h4v1h-4zM109 481h1v1h-1zM112 481h4v1h-4zM117 481h5v1h-5zM123 481h6v1h-6zM133 481h3v1h-3zM140 481h17v1h-17zM158 481h3v1h-3zM162 481h4v1h-4zM167 481h2v1h-2zM172 481h2v1h-2zM199 481h1v1h-1zM102 482h6v1h-6zM112 482h2v1h-2zM118 482h1v1h-1zM120 482h3v1h-3zM127 482h5v1h-5zM133 482h3v1h-3zM140 482h1v1h-1zM144 482h8v1h-8zM153 482h7v1h-7zM162 482h3v1h-3zM167 482h4v1h-4zM194 482h2v1h-2zM199 482h1v1h-1zM103 483h1v1h-1zM105 483h8v1h-8zM114 483h1v1h-1zM117 483h2v1h-2zM125 483h2v1h-2zM128 483h4v1h-4zM133 483h3v1h-3zM139 483h6v1h-6zM146 483h4v1h-4zM153 483h6v1h-6zM162 483h3v1h-3zM194 483h2v1h-2zM349 483h2v1h-2zM102 484h2v1h-2zM105 484h5v1h-5zM111 484h4v1h-4zM117 484h2v1h-2zM123 484h4v1h-4zM129 484h1v1h-1zM131 484h2v1h-2zM135 484h1v1h-1zM141 484h4v1h-4zM146 484h1v1h-1zM148 484h12v1h-12zM161 484h1v1h-1zM163 484h5v1h-5zM171 484h3v1h-3zM253 484h2v1h-2zM266 484h2v1h-2zM102 485h10v1h-10zM114 485h2v1h-2zM117 485h2v1h-2zM121 485h1v1h-1zM123 485h2v1h-2zM131 485h2v1h-2zM142 485h3v1h-3zM146 485h3v1h-3zM150 485h4v1h-4zM155 485h5v1h-5zM166 485h2v1h-2zM170 485h2v1h-2zM180 485h3v1h-3zM271 485h2v1h-2zM103 486h3v1h-3zM107 486h5v1h-5zM114 486h2v1h-2zM117 486h2v1h-2zM121 486h1v1h-1zM131 486h1v1h-1zM135 486h2v1h-2zM139 486h1v1h-1zM143 486h2v1h-2zM146 486h2v1h-2zM150 486h2v1h-2zM153 486h5v1h-5zM159 486h2v1h-2zM172 486h2v1h-2zM271 486h2v1h-2zM103 487h3v1h-3zM107 487h2v1h-2zM111 487h2v1h-2zM119 487h1v1h-1zM128 487h4v1h-4zM135 487h2v1h-2zM142 487h8v1h-8zM153 487h13v1h-13zM192 487h2v1h-2zM102 488h5v1h-5zM108 488h1v1h-1zM111 488h2v1h-2zM114 488h2v1h-2zM121 488h1v1h-1zM123 488h6v1h-6zM131 488h2v1h-2zM142 488h5v1h-5zM151 488h11v1h-11zM163 488h3v1h-3zM173 488h2v1h-2zM326 488h2v1h-2zM102 489h7v1h-7zM112 489h4v1h-4zM120 489h1v1h-1zM131 489h2v1h-2zM136 489h2v1h-2zM139 489h1v1h-1zM141 489h1v1h-1zM144 489h2v1h-2zM150 489h11v1h-11zM162 489h2v1h-2zM166 489h2v1h-2zM173 489h2v1h-2zM326 489h2v1h-2zM103 490h1v1h-1zM106 490h10v1h-10zM122 490h2v1h-2zM125 490h2v1h-2zM129 490h2v1h-2zM134 490h4v1h-4zM139 490h1v1h-1zM141 490h13v1h-13zM156 490h5v1h-5zM163 490h3v1h-3zM387 490h2v1h-2zM110 491h2v1h-2zM116 491h2v1h-2zM122 491h2v1h-2zM125 491h2v1h-2zM129 491h3v1h-3zM133 491h3v1h-3zM137 491h1v1h-1zM139 491h1v1h-1zM142 491h10v1h-10zM153 491h2v1h-2zM156 491h3v1h-3zM173 491h2v1h-2zM102 492h3v1h-3zM108 492h4v1h-4zM115 492h3v1h-3zM119 492h3v1h-3zM123 492h3v1h-3zM134 492h4v1h-4zM139 492h1v1h-1zM142 492h1v1h-1zM145 492h7v1h-7zM155 492h1v1h-1zM158 492h2v1h-2zM173 492h2v1h-2zM103 493h10v1h-10zM115 493h3v1h-3zM120 493h2v1h-2zM123 493h2v1h-2zM126 493h2v1h-2zM129 493h1v1h-1zM131 493h3v1h-3zM135 493h1v1h-1zM137 493h1v1h-1zM139 493h1v1h-1zM144 493h1v1h-1zM147 493h3v1h-3zM151 493h1v1h-1zM153 493h2v1h-2zM157 493h2v1h-2zM161 493h2v1h-2zM180 493h2v1h-2zM258 493h1v1h-1zM104 494h10v1h-10zM115 494h1v1h-1zM117 494h2v1h-2zM120 494h5v1h-5zM126 494h2v1h-2zM129 494h1v1h-1zM131 494h3v1h-3zM135 494h1v1h-1zM137 494h1v1h-1zM139 494h3v1h-3zM143 494h1v1h-1zM150 494h2v1h-2zM153 494h6v1h-6zM102 495h2v1h-2zM105 495h12v1h-12zM118 495h14v1h-14zM140 495h4v1h-4zM146 495h1v1h-1zM149 495h3v1h-3zM166 495h2v1h-2zM220 495h2v1h-2zM247 495h1v1h-1zM365 495h2v1h-2zM442 495h1v1h-1zM103 496h5v1h-5zM109 496h9v1h-9zM119 496h11v1h-11zM131 496h1v1h-1zM134 496h2v1h-2zM137 496h5v1h-5zM143 496h2v1h-2zM146 496h10v1h-10zM160 496h1v1h-1zM166 496h2v1h-2zM180 496h1v1h-1zM247 496h1v1h-1zM365 496h2v1h-2zM102 497h5v1h-5zM108 497h6v1h-6zM116 497h2v1h-2zM121 497h12v1h-12zM134 497h7v1h-7zM142 497h7v1h-7zM150 497h6v1h-6zM160 497h1v1h-1zM180 497h1v1h-1zM103 498h4v1h-4zM108 498h6v1h-6zM116 498h10v1h-10zM128 498h4v1h-4zM135 498h3v1h-3zM140 498h1v1h-1zM143 498h7v1h-7zM151 498h2v1h-2zM154 498h4v1h-4zM161 498h1v1h-1zM230 498h1v1h-1zM331 498h2v1h-2zM335 498h2v1h-2zM365 498h1v1h-1zM103 499h1v1h-1zM106 499h1v1h-1zM110 499h4v1h-4zM115 499h5v1h-5zM121 499h5v1h-5zM128 499h2v1h-2zM131 499h2v1h-2zM134 499h4v1h-4zM141 499h1v1h-1zM143 499h5v1h-5zM151 499h1v1h-1zM154 499h4v1h-4zM159 499h3v1h-3zM164 499h2v1h-2zM168 499h2v1h-2zM171 499h1v1h-1zM173 499h1v1h-1zM230 499h1v1h-1zM331 499h2v1h-2zM335 499h2v1h-2zM368 499h2v1h-2zM382 499h1v1h-1zM109 500h17v1h-17zM128 500h2v1h-2zM131 500h5v1h-5zM142 500h1v1h-1zM145 500h4v1h-4zM151 500h1v1h-1zM158 500h3v1h-3zM164 500h2v1h-2zM168 500h2v1h-2zM232 500h1v1h-1zM368 500h2v1h-2zM103 501h1v1h-1zM107 501h1v1h-1zM109 501h7v1h-7zM117 501h1v1h-1zM120 501h2v1h-2zM124 501h3v1h-3zM131 501h1v1h-1zM133 501h2v1h-2zM136 501h1v1h-1zM141 501h2v1h-2zM144 501h1v1h-1zM146 501h1v1h-1zM168 501h3v1h-3zM177 501h1v1h-1zM232 501h1v1h-1zM392 501h2v1h-2zM102 502h3v1h-3zM106 502h14v1h-14zM121 502h11v1h-11zM134 502h1v1h-1zM139 502h6v1h-6zM146 502h2v1h-2zM155 502h2v1h-2zM158 502h1v1h-1zM169 502h2v1h-2zM173 502h2v1h-2zM198 502h2v1h-2zM336 502h2v1h-2zM102 503h3v1h-3zM106 503h1v1h-1zM109 503h2v1h-2zM112 503h3v1h-3zM117 503h2v1h-2zM121 503h7v1h-7zM130 503h2v1h-2zM134 503h2v1h-2zM139 503h1v1h-1zM141 503h1v1h-1zM143 503h2v1h-2zM149 503h1v1h-1zM155 503h2v1h-2zM158 503h1v1h-1zM177 503h2v1h-2zM198 503h2v1h-2zM102 504h4v1h-4zM108 504h2v1h-2zM111 504h7v1h-7zM119 504h2v1h-2zM123 504h3v1h-3zM127 504h1v1h-1zM131 504h3v1h-3zM136 504h1v1h-1zM139 504h5v1h-5zM145 504h3v1h-3zM149 504h1v1h-1zM151 504h2v1h-2zM176 504h1v1h-1zM179 504h1v1h-1zM103 505h4v1h-4zM108 505h10v1h-10zM119 505h7v1h-7zM127 505h1v1h-1zM129 505h8v1h-8zM140 505h10v1h-10zM151 505h4v1h-4zM171 505h2v1h-2zM177 505h3v1h-3zM104 506h3v1h-3zM108 506h8v1h-8zM117 506h1v1h-1zM119 506h1v1h-1zM123 506h1v1h-1zM126 506h3v1h-3zM130 506h2v1h-2zM133 506h1v1h-1zM135 506h1v1h-1zM140 506h3v1h-3zM145 506h1v1h-1zM151 506h2v1h-2zM154 506h1v1h-1zM171 506h2v1h-2zM177 506h2v1h-2zM190 506h1v1h-1zM236 506h2v1h-2zM344 506h2v1h-2zM362 506h2v1h-2zM102 507h15v1h-15zM122 507h3v1h-3zM126 507h3v1h-3zM133 507h2v1h-2zM138 507h1v1h-1zM141 507h2v1h-2zM144 507h2v1h-2zM149 507h2v1h-2zM155 507h2v1h-2zM162 507h2v1h-2zM171 507h2v1h-2zM190 507h1v1h-1zM221 507h1v1h-1zM362 507h2v1h-2zM102 508h5v1h-5zM108 508h2v1h-2zM111 508h8v1h-8zM120 508h1v1h-1zM122 508h3v1h-3zM126 508h1v1h-1zM136 508h3v1h-3zM140 508h2v1h-2zM144 508h2v1h-2zM149 508h2v1h-2zM155 508h2v1h-2zM162 508h2v1h-2zM184 508h1v1h-1zM349 508h1v1h-1zM396 508h2v1h-2zM103 509h22v1h-22zM134 509h2v1h-2zM137 509h8v1h-8zM151 509h1v1h-1zM155 509h2v1h-2zM171 509h2v1h-2zM235 509h2v1h-2zM321 509h2v1h-2zM349 509h1v1h-1zM396 509h2v1h-2zM103 510h1v1h-1zM105 510h1v1h-1zM107 510h3v1h-3zM111 510h9v1h-9zM122 510h2v1h-2zM131 510h1v1h-1zM133 510h12v1h-12zM148 510h2v1h-2zM160 510h2v1h-2zM164 510h2v1h-2zM168 510h5v1h-5zM235 510h2v1h-2zM321 510h2v1h-2zM103 511h5v1h-5zM109 511h5v1h-5zM115 511h5v1h-5zM121 511h3v1h-3zM126 511h1v1h-1zM131 511h2v1h-2zM134 511h1v1h-1zM136 511h7v1h-7zM147 511h3v1h-3zM158 511h2v1h-2zM175 511h2v1h-2zM188 511h3v1h-3zM267 511h1v1h-1zM270 511h2v1h-2zM289 511h2v1h-2zM327 511h1v1h-1zM105 512h3v1h-3zM111 512h2v1h-2zM114 512h1v1h-1zM116 512h2v1h-2zM121 512h3v1h-3zM132 512h12v1h-12zM145 512h1v1h-1zM147 512h2v1h-2zM161 512h1v1h-1zM166 512h1v1h-1zM278 512h2v1h-2zM327 512h1v1h-1zM105 513h2v1h-2zM109 513h1v1h-1zM112 513h2v1h-2zM116 513h3v1h-3zM120 513h2v1h-2zM131 513h1v1h-1zM135 513h8v1h-8zM148 513h1v1h-1zM151 513h3v1h-3zM155 513h2v1h-2zM159 513h1v1h-1zM161 513h2v1h-2zM166 513h2v1h-2zM346 513h2v1h-2zM419 513h1v1h-1zM109 514h9v1h-9zM119 514h2v1h-2zM131 514h3v1h-3zM135 514h6v1h-6zM142 514h1v1h-1zM145 514h1v1h-1zM151 514h4v1h-4zM156 514h4v1h-4zM162 514h1v1h-1zM166 514h2v1h-2zM170 514h1v1h-1zM176 514h2v1h-2zM205 514h2v1h-2zM210 514h1v1h-1zM346 514h2v1h-2zM368 514h2v1h-2zM103 515h3v1h-3zM107 515h1v1h-1zM109 515h10v1h-10zM121 515h1v1h-1zM131 515h4v1h-4zM136 515h4v1h-4zM142 515h2v1h-2zM145 515h1v1h-1zM152 515h1v1h-1zM154 515h1v1h-1zM156 515h1v1h-1zM158 515h1v1h-1zM160 515h2v1h-2zM166 515h1v1h-1zM170 515h1v1h-1zM205 515h2v1h-2zM209 515h2v1h-2zM224 515h1v1h-1zM103 516h2v1h-2zM113 516h1v1h-1zM115 516h6v1h-6zM132 516h9v1h-9zM142 516h2v1h-2zM145 516h2v1h-2zM148 516h3v1h-3zM152 516h2v1h-2zM156 516h2v1h-2zM160 516h2v1h-2zM165 516h2v1h-2zM171 516h2v1h-2zM186 516h1v1h-1zM208 516h3v1h-3zM224 516h1v1h-1zM264 516h2v1h-2zM294 516h1v1h-1zM104 517h1v1h-1zM106 517h1v1h-1zM113 517h7v1h-7zM126 517h2v1h-2zM130 517h11v1h-11zM142 517h2v1h-2zM145 517h2v1h-2zM152 517h2v1h-2zM159 517h2v1h-2zM165 517h5v1h-5zM171 517h2v1h-2zM184 517h2v1h-2zM208 517h2v1h-2zM224 517h1v1h-1zM262 517h1v1h-1zM264 517h2v1h-2zM294 517h1v1h-1zM104 518h2v1h-2zM109 518h1v1h-1zM112 518h3v1h-3zM126 518h1v1h-1zM129 518h2v1h-2zM132 518h5v1h-5zM138 518h6v1h-6zM149 518h1v1h-1zM153 518h2v1h-2zM159 518h2v1h-2zM167 518h2v1h-2zM177 518h2v1h-2zM183 518h4v1h-4zM188 518h2v1h-2zM199 518h2v1h-2zM210 518h2v1h-2zM225 518h2v1h-2zM245 518h3v1h-3zM272 518h1v1h-1zM375 518h2v1h-2zM104 519h2v1h-2zM107 519h3v1h-3zM114 519h2v1h-2zM126 519h7v1h-7zM135 519h2v1h-2zM139 519h2v1h-2zM142 519h2v1h-2zM146 519h4v1h-4zM155 519h2v1h-2zM161 519h1v1h-1zM181 519h1v1h-1zM185 519h9v1h-9zM199 519h2v1h-2zM233 519h2v1h-2zM272 519h1v1h-1zM369 519h2v1h-2zM109 520h2v1h-2zM114 520h2v1h-2zM126 520h6v1h-6zM133 520h1v1h-1zM135 520h1v1h-1zM138 520h2v1h-2zM143 520h1v1h-1zM146 520h2v1h-2zM149 520h1v1h-1zM151 520h3v1h-3zM155 520h4v1h-4zM178 520h2v1h-2zM181 520h1v1h-1zM183 520h2v1h-2zM187 520h1v1h-1zM189 520h2v1h-2zM198 520h3v1h-3zM233 520h2v1h-2zM278 520h1v1h-1zM287 520h1v1h-1zM345 520h2v1h-2zM351 520h1v1h-1zM369 520h2v1h-2zM380 520h2v1h-2zM105 521h1v1h-1zM125 521h6v1h-6zM132 521h8v1h-8zM143 521h1v1h-1zM146 521h5v1h-5zM154 521h1v1h-1zM156 521h3v1h-3zM165 521h2v1h-2zM168 521h2v1h-2zM178 521h2v1h-2zM181 521h4v1h-4zM198 521h3v1h-3zM205 521h2v1h-2zM208 521h1v1h-1zM211 521h1v1h-1zM217 521h2v1h-2zM278 521h1v1h-1zM287 521h1v1h-1zM345 521h3v1h-3zM351 521h1v1h-1zM109 522h1v1h-1zM126 522h5v1h-5zM132 522h2v1h-2zM135 522h5v1h-5zM141 522h4v1h-4zM146 522h4v1h-4zM154 522h1v1h-1zM156 522h4v1h-4zM165 522h2v1h-2zM168 522h2v1h-2zM177 522h2v1h-2zM205 522h2v1h-2zM211 522h1v1h-1zM217 522h2v1h-2zM226 522h1v1h-1zM231 522h1v1h-1zM273 522h2v1h-2zM304 522h1v1h-1zM315 522h2v1h-2zM334 522h2v1h-2zM358 522h2v1h-2zM391 522h1v1h-1zM106 523h3v1h-3zM127 523h5v1h-5zM133 523h3v1h-3zM139 523h1v1h-1zM141 523h4v1h-4zM146 523h1v1h-1zM149 523h1v1h-1zM159 523h2v1h-2zM163 523h1v1h-1zM170 523h2v1h-2zM174 523h2v1h-2zM177 523h2v1h-2zM182 523h1v1h-1zM184 523h2v1h-2zM199 523h1v1h-1zM209 523h2v1h-2zM263 523h2v1h-2zM315 523h2v1h-2zM327 523h1v1h-1zM334 523h2v1h-2zM338 523h1v1h-1zM358 523h2v1h-2zM391 523h1v1h-1zM105 524h2v1h-2zM108 524h1v1h-1zM120 524h1v1h-1zM124 524h8v1h-8zM133 524h8v1h-8zM142 524h1v1h-1zM146 524h1v1h-1zM149 524h1v1h-1zM156 524h2v1h-2zM159 524h2v1h-2zM163 524h2v1h-2zM177 524h1v1h-1zM182 524h1v1h-1zM184 524h4v1h-4zM199 524h2v1h-2zM207 524h2v1h-2zM216 524h1v1h-1zM225 524h1v1h-1zM254 524h4v1h-4zM273 524h1v1h-1zM278 524h2v1h-2zM286 524h2v1h-2zM293 524h1v1h-1zM311 524h1v1h-1zM313 524h1v1h-1zM319 524h2v1h-2zM338 524h1v1h-1zM348 524h2v1h-2zM359 524h1v1h-1zM361 524h1v1h-1zM363 524h2v1h-2zM381 524h2v1h-2zM392 524h1v1h-1zM420 524h2v1h-2zM504 524h1v1h-1zM102 525h1v1h-1zM123 525h2v1h-2zM126 525h10v1h-10zM140 525h7v1h-7zM156 525h9v1h-9zM167 525h1v1h-1zM173 525h2v1h-2zM177 525h1v1h-1zM182 525h1v1h-1zM185 525h3v1h-3zM199 525h2v1h-2zM210 525h2v1h-2zM216 525h1v1h-1zM225 525h1v1h-1zM230 525h2v1h-2zM235 525h1v1h-1zM237 525h1v1h-1zM256 525h2v1h-2zM265 525h1v1h-1zM273 525h1v1h-1zM286 525h2v1h-2zM292 525h2v1h-2zM301 525h1v1h-1zM306 525h3v1h-3zM313 525h1v1h-1zM315 525h1v1h-1zM319 525h2v1h-2zM332 525h2v1h-2zM348 525h2v1h-2zM363 525h2v1h-2zM381 525h2v1h-2zM392 525h1v1h-1zM118 526h1v1h-1zM121 526h4v1h-4zM127 526h6v1h-6zM134 526h4v1h-4zM142 526h5v1h-5zM152 526h3v1h-3zM164 526h1v1h-1zM167 526h1v1h-1zM169 526h1v1h-1zM179 526h2v1h-2zM182 526h2v1h-2zM185 526h1v1h-1zM199 526h1v1h-1zM202 526h2v1h-2zM206 526h6v1h-6zM216 526h1v1h-1zM225 526h1v1h-1zM230 526h2v1h-2zM235 526h1v1h-1zM262 526h1v1h-1zM265 526h1v1h-1zM277 526h3v1h-3zM290 526h1v1h-1zM292 526h2v1h-2zM296 526h2v1h-2zM301 526h1v1h-1zM306 526h2v1h-2zM313 526h1v1h-1zM315 526h1v1h-1zM317 526h2v1h-2zM324 526h2v1h-2zM329 526h1v1h-1zM332 526h2v1h-2zM118 527h1v1h-1zM123 527h12v1h-12zM136 527h1v1h-1zM138 527h2v1h-2zM141 527h2v1h-2zM144 527h3v1h-3zM152 527h3v1h-3zM164 527h1v1h-1zM169 527h1v1h-1zM172 527h4v1h-4zM178 527h2v1h-2zM182 527h2v1h-2zM185 527h1v1h-1zM193 527h1v1h-1zM206 527h4v1h-4zM212 527h2v1h-2zM216 527h1v1h-1zM221 527h2v1h-2zM225 527h1v1h-1zM230 527h2v1h-2zM235 527h1v1h-1zM239 527h1v1h-1zM248 527h2v1h-2zM262 527h4v1h-4zM276 527h3v1h-3zM289 527h5v1h-5zM296 527h2v1h-2zM315 527h1v1h-1zM317 527h2v1h-2zM324 527h3v1h-3zM329 527h1v1h-1zM332 527h1v1h-1zM334 527h2v1h-2zM400 527h2v1h-2zM119 528h2v1h-2zM123 528h4v1h-4zM128 528h5v1h-5zM134 528h9v1h-9zM144 528h3v1h-3zM148 528h4v1h-4zM155 528h2v1h-2zM159 528h1v1h-1zM162 528h2v1h-2zM167 528h1v1h-1zM172 528h4v1h-4zM178 528h2v1h-2zM185 528h1v1h-1zM187 528h2v1h-2zM193 528h2v1h-2zM207 528h3v1h-3zM212 528h2v1h-2zM235 528h2v1h-2zM239 528h1v1h-1zM248 528h2v1h-2zM260 528h5v1h-5zM273 528h2v1h-2zM286 528h2v1h-2zM289 528h1v1h-1zM294 528h1v1h-1zM330 528h3v1h-3zM355 528h1v1h-1zM358 528h2v1h-2zM460 528h2v1h-2zM122 529h7v1h-7zM131 529h6v1h-6zM139 529h2v1h-2zM142 529h5v1h-5zM148 529h3v1h-3zM152 529h2v1h-2zM155 529h3v1h-3zM159 529h9v1h-9zM172 529h1v1h-1zM174 529h2v1h-2zM187 529h2v1h-2zM193 529h2v1h-2zM203 529h2v1h-2zM207 529h2v1h-2zM214 529h2v1h-2zM228 529h2v1h-2zM234 529h2v1h-2zM239 529h1v1h-1zM260 529h1v1h-1zM263 529h1v1h-1zM265 529h2v1h-2zM280 529h1v1h-1zM287 529h1v1h-1zM310 529h2v1h-2zM325 529h2v1h-2zM330 529h2v1h-2zM335 529h2v1h-2zM345 529h2v1h-2zM352 529h1v1h-1zM355 529h2v1h-2zM374 529h2v1h-2zM382 529h2v1h-2zM397 529h2v1h-2zM400 529h2v1h-2zM420 529h1v1h-1zM118 530h6v1h-6zM126 530h7v1h-7zM136 530h2v1h-2zM139 530h2v1h-2zM142 530h2v1h-2zM146 530h3v1h-3zM150 530h4v1h-4zM155 530h3v1h-3zM159 530h1v1h-1zM164 530h1v1h-1zM167 530h2v1h-2zM171 530h2v1h-2zM177 530h2v1h-2zM181 530h3v1h-3zM188 530h1v1h-1zM190 530h4v1h-4zM200 530h2v1h-2zM203 530h2v1h-2zM208 530h2v1h-2zM212 530h1v1h-1zM214 530h2v1h-2zM222 530h1v1h-1zM234 530h2v1h-2zM245 530h2v1h-2zM257 530h2v1h-2zM263 530h1v1h-1zM265 530h3v1h-3zM273 530h4v1h-4zM279 530h3v1h-3zM283 530h2v1h-2zM286 530h4v1h-4zM291 530h1v1h-1zM300 530h2v1h-2zM305 530h2v1h-2zM311 530h2v1h-2zM315 530h1v1h-1zM335 530h6v1h-6zM354 530h2v1h-2zM370 530h6v1h-6zM382 530h2v1h-2zM397 530h2v1h-2zM400 530h2v1h-2zM119 531h3v1h-3zM126 531h4v1h-4zM131 531h2v1h-2zM135 531h6v1h-6zM142 531h2v1h-2zM145 531h1v1h-1zM148 531h4v1h-4zM155 531h1v1h-1zM157 531h1v1h-1zM159 531h3v1h-3zM167 531h2v1h-2zM172 531h2v1h-2zM177 531h2v1h-2zM180 531h6v1h-6zM187 531h2v1h-2zM191 531h3v1h-3zM197 531h1v1h-1zM208 531h2v1h-2zM212 531h3v1h-3zM217 531h1v1h-1zM222 531h1v1h-1zM234 531h2v1h-2zM239 531h1v1h-1zM245 531h2v1h-2zM250 531h2v1h-2zM254 531h2v1h-2zM257 531h2v1h-2zM266 531h1v1h-1zM271 531h4v1h-4zM280 531h2v1h-2zM286 531h5v1h-5zM294 531h1v1h-1zM300 531h2v1h-2zM303 531h1v1h-1zM305 531h2v1h-2zM309 531h2v1h-2zM312 531h1v1h-1zM316 531h1v1h-1zM331 531h4v1h-4zM336 531h2v1h-2zM339 531h2v1h-2zM345 531h1v1h-1zM354 531h2v1h-2zM361 531h2v1h-2zM364 531h1v1h-1zM372 531h2v1h-2zM392 531h2v1h-2zM395 531h2v1h-2zM417 531h2v1h-2zM119 532h3v1h-3zM123 532h3v1h-3zM127 532h1v1h-1zM129 532h4v1h-4zM137 532h7v1h-7zM147 532h11v1h-11zM159 532h3v1h-3zM163 532h2v1h-2zM169 532h6v1h-6zM177 532h3v1h-3zM182 532h4v1h-4zM187 532h3v1h-3zM193 532h1v1h-1zM196 532h3v1h-3zM205 532h2v1h-2zM208 532h2v1h-2zM218 532h1v1h-1zM221 532h2v1h-2zM226 532h2v1h-2zM234 532h2v1h-2zM239 532h3v1h-3zM248 532h4v1h-4zM254 532h4v1h-4zM266 532h2v1h-2zM270 532h3v1h-3zM282 532h4v1h-4zM287 532h4v1h-4zM299 532h1v1h-1zM305 532h2v1h-2zM322 532h1v1h-1zM333 532h2v1h-2zM336 532h2v1h-2zM340 532h3v1h-3zM351 532h4v1h-4zM361 532h2v1h-2zM364 532h3v1h-3zM374 532h1v1h-1zM395 532h2v1h-2zM402 532h1v1h-1zM417 532h2v1h-2zM432 532h2v1h-2zM120 533h14v1h-14zM137 533h2v1h-2zM140 533h12v1h-12zM153 533h5v1h-5zM159 533h2v1h-2zM162 533h1v1h-1zM164 533h1v1h-1zM166 533h6v1h-6zM173 533h7v1h-7zM182 533h2v1h-2zM185 533h5v1h-5zM197 533h2v1h-2zM200 533h1v1h-1zM202 533h4v1h-4zM208 533h2v1h-2zM211 533h1v1h-1zM213 533h1v1h-1zM216 533h7v1h-7zM225 533h3v1h-3zM232 533h7v1h-7zM240 533h2v1h-2zM244 533h2v1h-2zM247 533h5v1h-5zM256 533h2v1h-2zM266 533h6v1h-6zM273 533h2v1h-2zM283 533h2v1h-2zM287 533h1v1h-1zM289 533h2v1h-2zM292 533h2v1h-2zM299 533h1v1h-1zM304 533h2v1h-2zM311 533h2v1h-2zM314 533h1v1h-1zM319 533h1v1h-1zM331 533h2v1h-2zM335 533h1v1h-1zM340 533h3v1h-3zM351 533h4v1h-4zM356 533h2v1h-2zM361 533h2v1h-2zM364 533h1v1h-1zM369 533h3v1h-3zM374 533h1v1h-1zM378 533h1v1h-1zM380 533h2v1h-2zM395 533h1v1h-1zM401 533h3v1h-3zM414 533h1v1h-1zM418 533h2v1h-2zM432 533h2v1h-2zM442 533h2v1h-2zM124 534h2v1h-2zM127 534h2v1h-2zM130 534h2v1h-2zM135 534h1v1h-1zM137 534h1v1h-1zM141 534h1v1h-1zM143 534h8v1h-8zM152 534h1v1h-1zM157 534h1v1h-1zM166 534h4v1h-4zM172 534h2v1h-2zM175 534h3v1h-3zM179 534h1v1h-1zM182 534h8v1h-8zM191 534h2v1h-2zM196 534h3v1h-3zM200 534h1v1h-1zM202 534h3v1h-3zM211 534h12v1h-12zM225 534h2v1h-2zM228 534h1v1h-1zM230 534h1v1h-1zM232 534h5v1h-5zM240 534h2v1h-2zM245 534h1v1h-1zM248 534h3v1h-3zM255 534h5v1h-5zM262 534h1v1h-1zM266 534h1v1h-1zM268 534h2v1h-2zM272 534h1v1h-1zM285 534h2v1h-2zM289 534h1v1h-1zM292 534h2v1h-2zM297 534h2v1h-2zM304 534h2v1h-2zM308 534h3v1h-3zM314 534h1v1h-1zM319 534h1v1h-1zM322 534h3v1h-3zM326 534h5v1h-5zM335 534h1v1h-1zM348 534h1v1h-1zM353 534h1v1h-1zM356 534h2v1h-2zM364 534h1v1h-1zM366 534h4v1h-4zM372 534h3v1h-3zM378 534h1v1h-1zM380 534h2v1h-2zM390 534h1v1h-1zM395 534h1v1h-1zM401 534h2v1h-2zM411 534h1v1h-1zM414 534h1v1h-1zM418 534h2v1h-2zM432 534h2v1h-2zM442 534h2v1h-2zM445 534h2v1h-2zM489 534h1v1h-1zM131 535h2v1h-2zM135 535h3v1h-3zM143 535h2v1h-2zM147 535h2v1h-2zM150 535h3v1h-3zM154 535h5v1h-5zM160 535h1v1h-1zM162 535h4v1h-4zM167 535h3v1h-3zM171 535h2v1h-2zM176 535h5v1h-5zM182 535h3v1h-3zM186 535h8v1h-8zM195 535h4v1h-4zM200 535h5v1h-5zM207 535h1v1h-1zM210 535h5v1h-5zM221 535h2v1h-2zM226 535h2v1h-2zM230 535h1v1h-1zM233 535h1v1h-1zM240 535h2v1h-2zM243 535h1v1h-1zM245 535h2v1h-2zM248 535h1v1h-1zM251 535h1v1h-1zM258 535h6v1h-6zM265 535h3v1h-3zM269 535h4v1h-4zM282 535h3v1h-3zM292 535h2v1h-2zM297 535h2v1h-2zM300 535h4v1h-4zM305 535h4v1h-4zM310 535h3v1h-3zM314 535h1v1h-1zM316 535h1v1h-1zM320 535h2v1h-2zM324 535h2v1h-2zM328 535h2v1h-2zM332 535h4v1h-4zM342 535h2v1h-2zM347 535h3v1h-3zM354 535h1v1h-1zM357 535h3v1h-3zM361 535h1v1h-1zM364 535h1v1h-1zM366 535h2v1h-2zM370 535h4v1h-4zM382 535h2v1h-2zM387 535h2v1h-2zM390 535h1v1h-1zM401 535h2v1h-2zM406 535h3v1h-3zM411 535h1v1h-1zM414 535h2v1h-2zM417 535h1v1h-1zM422 535h1v1h-1zM428 535h2v1h-2zM433 535h2v1h-2zM489 535h1v1h-1zM525 535h2v1h-2zM546 535h1v1h-1zM144 536h3v1h-3zM150 536h2v1h-2zM156 536h3v1h-3zM161 536h5v1h-5zM167 536h1v1h-1zM171 536h1v1h-1zM174 536h5v1h-5zM180 536h4v1h-4zM186 536h18v1h-18zM205 536h4v1h-4zM210 536h2v1h-2zM215 536h3v1h-3zM219 536h5v1h-5zM226 536h1v1h-1zM232 536h2v1h-2zM235 536h1v1h-1zM239 536h1v1h-1zM243 536h2v1h-2zM247 536h2v1h-2zM251 536h1v1h-1zM253 536h4v1h-4zM259 536h5v1h-5zM265 536h8v1h-8zM276 536h1v1h-1zM278 536h1v1h-1zM282 536h8v1h-8zM293 536h1v1h-1zM298 536h1v1h-1zM300 536h2v1h-2zM303 536h1v1h-1zM305 536h3v1h-3zM311 536h2v1h-2zM316 536h1v1h-1zM325 536h2v1h-2zM328 536h1v1h-1zM331 536h2v1h-2zM334 536h2v1h-2zM340 536h5v1h-5zM348 536h2v1h-2zM357 536h5v1h-5zM365 536h1v1h-1zM370 536h6v1h-6zM378 536h3v1h-3zM382 536h3v1h-3zM388 536h1v1h-1zM392 536h2v1h-2zM401 536h4v1h-4zM408 536h2v1h-2zM413 536h3v1h-3zM417 536h1v1h-1zM419 536h1v1h-1zM422 536h1v1h-1zM424 536h1v1h-1zM428 536h4v1h-4zM433 536h2v1h-2zM447 536h2v1h-2zM450 536h1v1h-1zM454 536h2v1h-2zM525 536h2v1h-2zM546 536h1v1h-1zM579 536h2v1h-2zM157 537h2v1h-2zM167 537h1v1h-1zM173 537h3v1h-3zM177 537h6v1h-6zM186 537h1v1h-1zM188 537h8v1h-8zM197 537h3v1h-3zM201 537h2v1h-2zM205 537h6v1h-6zM212 537h2v1h-2zM215 537h8v1h-8zM224 537h4v1h-4zM230 537h6v1h-6zM237 537h1v1h-1zM239 537h1v1h-1zM243 537h3v1h-3zM247 537h2v1h-2zM250 537h1v1h-1zM253 537h4v1h-4zM258 537h3v1h-3zM262 537h2v1h-2zM266 537h2v1h-2zM270 537h1v1h-1zM272 537h3v1h-3zM276 537h2v1h-2zM279 537h6v1h-6zM286 537h2v1h-2zM292 537h3v1h-3zM296 537h3v1h-3zM300 537h2v1h-2zM305 537h5v1h-5zM311 537h2v1h-2zM314 537h2v1h-2zM322 537h10v1h-10zM333 537h3v1h-3zM337 537h10v1h-10zM348 537h3v1h-3zM352 537h6v1h-6zM359 537h4v1h-4zM370 537h1v1h-1zM372 537h1v1h-1zM377 537h4v1h-4zM382 537h7v1h-7zM392 537h3v1h-3zM396 537h4v1h-4zM402 537h5v1h-5zM408 537h2v1h-2zM417 537h1v1h-1zM419 537h1v1h-1zM422 537h1v1h-1zM424 537h1v1h-1zM430 537h2v1h-2zM433 537h2v1h-2zM437 537h2v1h-2zM447 537h4v1h-4zM455 537h2v1h-2zM464 537h1v1h-1zM475 537h1v1h-1zM490 537h1v1h-1zM536 537h1v1h-1zM558 537h2v1h-2zM593 537h1v1h-1zM157 538h2v1h-2zM165 538h1v1h-1zM168 538h1v1h-1zM173 538h3v1h-3zM177 538h3v1h-3zM181 538h2v1h-2zM185 538h10v1h-10zM196 538h4v1h-4zM201 538h2v1h-2zM204 538h2v1h-2zM207 538h4v1h-4zM213 538h1v1h-1zM215 538h8v1h-8zM224 538h13v1h-13zM238 538h4v1h-4zM244 538h5v1h-5zM251 538h1v1h-1zM253 538h3v1h-3zM258 538h10v1h-10zM270 538h2v1h-2zM273 538h5v1h-5zM279 538h5v1h-5zM286 538h2v1h-2zM289 538h3v1h-3zM293 538h6v1h-6zM300 538h2v1h-2zM304 538h14v1h-14zM319 538h5v1h-5zM325 538h26v1h-26zM352 538h12v1h-12zM365 538h6v1h-6zM372 538h19v1h-19zM393 538h10v1h-10zM405 538h2v1h-2zM408 538h1v1h-1zM411 538h1v1h-1zM416 538h2v1h-2zM428 538h1v1h-1zM430 538h2v1h-2zM433 538h3v1h-3zM437 538h2v1h-2zM445 538h6v1h-6zM452 538h2v1h-2zM455 538h2v1h-2zM458 538h4v1h-4zM464 538h3v1h-3zM475 538h1v1h-1zM486 538h2v1h-2zM490 538h1v1h-1zM496 538h2v1h-2zM509 538h1v1h-1zM524 538h1v1h-1zM528 538h2v1h-2zM536 538h1v1h-1zM555 538h2v1h-2zM569 538h2v1h-2zM593 538h1v1h-1zM185 539h1v1h-1zM189 539h4v1h-4zM197 539h2v1h-2zM202 539h7v1h-7zM210 539h4v1h-4zM216 539h12v1h-12zM230 539h7v1h-7zM238 539h14v1h-14zM253 539h1v1h-1zM257 539h1v1h-1zM259 539h2v1h-2zM263 539h10v1h-10zM274 539h1v1h-1zM276 539h11v1h-11zM288 539h12v1h-12zM301 539h2v1h-2zM304 539h18v1h-18zM325 539h40v1h-40zM366 539h38v1h-38zM405 539h2v1h-2zM408 539h11v1h-11zM420 539h5v1h-5zM426 539h1v1h-1zM428 539h12v1h-12zM442 539h1v1h-1zM445 539h3v1h-3zM450 539h4v1h-4zM455 539h2v1h-2zM459 539h3v1h-3zM464 539h3v1h-3zM468 539h4v1h-4zM476 539h2v1h-2zM480 539h1v1h-1zM486 539h2v1h-2zM489 539h3v1h-3zM493 539h7v1h-7zM506 539h2v1h-2zM509 539h3v1h-3zM516 539h2v1h-2zM521 539h2v1h-2zM524 539h1v1h-1zM528 539h2v1h-2zM535 539h10v1h-10zM546 539h7v1h-7zM555 539h2v1h-2zM558 539h2v1h-2zM572 539h5v1h-5zM583 539h1v1h-1zM585 539h4v1h-4zM593 539h1v1h-1z"/><path fill="#0000f6" d="M103 122h2v1h-2zM103 123h2v1h-2zM101 175h2v1h-2zM333 324h1v1h-1zM326 325h1v1h-1zM333 325h1v1h-1zM339 325h1v1h-1zM339 326h1v1h-1zM101 331h2v1h-2zM101 332h2v1h-2zM295 335h2v1h-2zM311 343h2v1h-2zM101 348h1v1h-1zM101 402h1v1h-1zM105 408h1v1h-1zM101 409h1v1h-1zM101 410h1v1h-1zM101 415h1v1h-1zM101 416h1v1h-1zM209 416h2v1h-2zM101 421h2v1h-2zM101 422h2v1h-2zM101 429h1v1h-1zM101 430h1v1h-1zM101 437h1v1h-1zM101 447h1v1h-1zM101 449h1v1h-1zM101 450h1v1h-1zM101 461h1v1h-1zM171 463h1v1h-1zM101 464h2v1h-2zM101 465h2v1h-2zM170 470h1v1h-1zM167 472h2v1h-2zM167 473h2v1h-2zM101 475h2v1h-2zM165 475h2v1h-2zM165 476h1v1h-1zM101 478h1v1h-1zM161 481h1v1h-1zM101 482h1v1h-1zM165 482h2v1h-2zM101 483h2v1h-2zM150 483h1v1h-1zM152 483h1v1h-1zM160 483h1v1h-1zM165 483h2v1h-2zM101 484h1v1h-1zM160 484h1v1h-1zM129 485h2v1h-2zM154 485h1v1h-1zM160 485h1v1h-1zM101 486h1v1h-1zM129 486h2v1h-2zM114 487h2v1h-2zM152 487h1v1h-1zM148 488h2v1h-2zM116 489h2v1h-2zM148 489h2v1h-2zM102 490h1v1h-1zM116 490h2v1h-2zM102 491h2v1h-2zM152 491h1v1h-1zM144 492h1v1h-1zM141 493h3v1h-3zM145 493h2v1h-2zM150 493h1v1h-1zM152 493h1v1h-1zM142 494h1v1h-1zM144 494h5v1h-5zM152 494h1v1h-1zM144 495h2v1h-2zM147 495h2v1h-2zM152 495h2v1h-2zM108 496h1v1h-1zM142 496h1v1h-1zM145 496h1v1h-1zM107 497h1v1h-1zM114 497h2v1h-2zM141 497h1v1h-1zM114 498h2v1h-2zM141 498h2v1h-2zM104 499h2v1h-2zM109 499h1v1h-1zM140 499h1v1h-1zM142 499h1v1h-1zM102 500h4v1h-4zM137 500h5v1h-5zM143 500h2v1h-2zM102 501h1v1h-1zM105 501h2v1h-2zM130 501h1v1h-1zM137 501h4v1h-4zM143 501h1v1h-1zM133 502h1v1h-1zM108 503h1v1h-1zM129 503h1v1h-1zM133 503h1v1h-1zM137 503h2v1h-2zM140 503h1v1h-1zM129 504h2v1h-2zM102 505h1v1h-1zM138 505h2v1h-2zM102 506h2v1h-2zM136 506h4v1h-4zM125 507h1v1h-1zM129 507h1v1h-1zM136 507h2v1h-2zM139 507h2v1h-2zM107 508h1v1h-1zM125 508h1v1h-1zM127 508h3v1h-3zM134 508h1v1h-1zM125 509h5v1h-5zM136 509h1v1h-1zM104 510h1v1h-1zM106 510h1v1h-1zM110 510h1v1h-1zM124 510h1v1h-1zM102 511h1v1h-1zM108 511h1v1h-1zM133 511h1v1h-1zM102 512h3v1h-3zM108 512h3v1h-3zM113 512h1v1h-1zM115 512h1v1h-1zM118 512h2v1h-2zM125 512h1v1h-1zM129 512h2v1h-2zM103 513h2v1h-2zM108 513h1v1h-1zM110 513h1v1h-1zM119 513h1v1h-1zM133 513h2v1h-2zM103 514h6v1h-6zM118 514h1v1h-1zM121 514h1v1h-1zM128 514h1v1h-1zM102 515h1v1h-1zM106 515h1v1h-1zM108 515h1v1h-1zM102 516h1v1h-1zM107 516h6v1h-6zM114 516h1v1h-1zM126 516h1v1h-1zM130 516h2v1h-2zM102 517h1v1h-1zM105 517h1v1h-1zM107 517h2v1h-2zM110 517h3v1h-3zM128 517h2v1h-2zM102 518h2v1h-2zM106 518h3v1h-3zM116 518h2v1h-2zM119 518h1v1h-1zM125 518h1v1h-1zM127 518h2v1h-2zM111 519h3v1h-3zM116 519h2v1h-2zM125 519h1v1h-1zM103 520h2v1h-2zM107 520h1v1h-1zM124 520h2v1h-2zM103 521h2v1h-2zM111 521h1v1h-1zM124 521h1v1h-1zM104 522h3v1h-3zM110 522h3v1h-3zM124 522h2v1h-2zM134 522h1v1h-1zM123 523h3v1h-3zM111 524h1v1h-1zM123 524h1v1h-1zM105 525h1v1h-1zM111 525h1v1h-1zM117 525h4v1h-4zM122 525h1v1h-1zM125 525h1v1h-1zM136 525h2v1h-2zM105 526h1v1h-1zM125 526h2v1h-2zM121 527h2v1h-2zM117 528h2v1h-2zM121 528h2v1h-2zM115 529h7v1h-7zM129 529h2v1h-2zM138 529h1v1h-1zM115 530h3v1h-3zM124 530h2v1h-2zM133 530h2v1h-2zM116 531h3v1h-3zM122 531h4v1h-4zM130 531h1v1h-1zM133 531h2v1h-2zM144 531h1v1h-1zM115 532h2v1h-2zM122 532h1v1h-1zM134 532h3v1h-3zM144 532h1v1h-1zM115 533h2v1h-2zM134 533h2v1h-2zM158 533h1v1h-1zM115 534h1v1h-1zM118 534h1v1h-1zM132 534h1v1h-1zM134 534h1v1h-1zM138 534h3v1h-3zM151 534h1v1h-1zM153 534h1v1h-1zM158 534h1v1h-1zM161 534h2v1h-2zM134 535h1v1h-1zM138 535h4v1h-4zM145 535h2v1h-2zM149 535h1v1h-1zM153 535h1v1h-1zM159 535h1v1h-1zM161 535h1v1h-1zM166 535h1v1h-1zM134 536h1v1h-1zM138 536h1v1h-1zM140 536h2v1h-2zM143 536h1v1h-1zM147 536h3v1h-3zM152 536h1v1h-1zM154 536h2v1h-2zM166 536h1v1h-1zM168 536h3v1h-3zM145 537h4v1h-4zM150 537h2v1h-2zM153 537h2v1h-2zM161 537h2v1h-2zM164 537h3v1h-3zM168 537h5v1h-5zM176 537h1v1h-1zM183 537h2v1h-2zM211 537h1v1h-1zM164 538h1v1h-1zM169 538h4v1h-4zM176 538h1v1h-1zM180 538h1v1h-1zM183 538h2v1h-2zM203 538h1v1h-1zM206 538h1v1h-1zM211 538h2v1h-2zM214 538h1v1h-1zM237 538h1v1h-1zM242 538h1v1h-1zM249 538h1v1h-1zM252 538h1v1h-1zM256 538h1v1h-1zM278 538h1v1h-1zM407 538h1v1h-1zM161 539h1v1h-1zM169 539h1v1h-1zM179 539h1v1h-1zM186 539h3v1h-3zM193 539h2v1h-2zM199 539h3v1h-3zM209 539h1v1h-1zM214 539h2v1h-2zM228 539h2v1h-2zM237 539h1v1h-1zM252 539h1v1h-1zM254 539h3v1h-3zM258 539h1v1h-1zM261 539h2v1h-2zM300 539h1v1h-1zM323 539h2v1h-2zM407 539h1v1h-1z"/><path fill="#0021ff" d="M101 452h1v1h-1zM101 466h2v1h-2zM101 468h2v1h-2zM101 474h1v1h-1zM101 476h1v1h-1zM101 477h1v1h-1zM102 481h1v1h-1zM101 492h1v1h-1zM139 498h1v1h-1zM139 499h1v1h-1zM136 500h1v1h-1zM104 501h1v1h-1zM101 502h1v1h-1zM137 502h2v1h-2zM136 503h1v1h-1zM137 504h1v1h-1zM137 505h1v1h-1zM132 506h1v1h-1zM131 507h1v1h-1zM135 507h1v1h-1zM131 508h1v1h-1zM102 509h1v1h-1zM102 510h1v1h-1zM120 510h2v1h-2zM120 511h1v1h-1zM124 511h1v1h-1zM131 512h1v1h-1zM114 513h2v1h-2zM122 513h1v1h-1zM130 513h1v1h-1zM132 513h1v1h-1zM122 514h1v1h-1zM130 514h1v1h-1zM119 515h1v1h-1zM128 515h1v1h-1zM130 515h1v1h-1zM105 516h2v1h-2zM128 516h1v1h-1zM109 517h1v1h-1zM120 517h1v1h-1zM110 518h1v1h-1zM120 518h1v1h-1zM103 519h1v1h-1zM110 519h1v1h-1zM108 520h1v1h-1zM111 520h1v1h-1zM106 521h5v1h-5zM114 521h2v1h-2zM123 521h1v1h-1zM107 522h2v1h-2zM113 522h1v1h-1zM122 522h2v1h-2zM104 523h2v1h-2zM122 523h1v1h-1zM109 524h2v1h-2zM121 524h2v1h-2zM109 525h2v1h-2zM121 525h1v1h-1zM108 526h1v1h-1zM110 526h1v1h-1zM104 527h2v1h-2zM117 527h1v1h-1zM119 527h2v1h-2zM107 528h1v1h-1zM114 528h1v1h-1zM117 533h3v1h-3zM121 534h3v1h-3zM129 534h1v1h-1zM133 534h1v1h-1zM136 534h1v1h-1zM121 535h3v1h-3zM130 535h1v1h-1zM142 535h1v1h-1zM130 536h2v1h-2zM139 536h1v1h-1zM142 536h1v1h-1zM153 536h1v1h-1zM159 536h1v1h-1zM137 537h1v1h-1zM152 537h1v1h-1zM155 537h2v1h-2zM159 537h2v1h-2zM153 538h1v1h-1zM159 538h4v1h-4zM166 538h2v1h-2zM195 538h1v1h-1zM159 539h2v1h-2zM162 539h2v1h-2zM167 539h1v1h-1zM170 539h1v1h-1zM174 539h5v1h-5zM184 539h1v1h-1zM195 539h2v1h-2z"/><path fill="#0049ff" d="M101 469h1v1h-1zM101 470h1v1h-1zM101 471h1v1h-1zM101 493h2v1h-2zM101 494h2v1h-2zM135 502h2v1h-2zM134 504h2v1h-2zM134 506h1v1h-1zM132 507h1v1h-1zM132 508h2v1h-2zM132 509h2v1h-2zM126 510h1v1h-1zM132 510h1v1h-1zM127 511h1v1h-1zM129 511h1v1h-1zM120 515h1v1h-1zM122 515h2v1h-2zM126 515h1v1h-1zM103 517h1v1h-1zM111 518h1v1h-1zM102 519h1v1h-1zM106 519h1v1h-1zM118 519h1v1h-1zM122 519h2v1h-2zM105 520h2v1h-2zM112 520h2v1h-2zM118 520h1v1h-1zM112 521h2v1h-2zM110 523h1v1h-1zM104 524h1v1h-1zM107 524h1v1h-1zM106 525h3v1h-3zM106 526h2v1h-2zM119 526h2v1h-2zM114 531h1v1h-1zM114 532h1v1h-1zM117 532h2v1h-2zM126 534h1v1h-1zM117 535h1v1h-1zM126 535h1v1h-1zM133 535h1v1h-1zM136 536h1v1h-1zM136 537h1v1h-1zM149 537h1v1h-1zM163 537h1v1h-1zM136 538h2v1h-2zM149 538h2v1h-2zM163 538h1v1h-1z"/><path fill="#0071ff" d="M101 490h1v1h-1zM125 510h1v1h-1zM129 510h1v1h-1zM125 511h1v1h-1zM128 511h1v1h-1zM127 512h2v1h-2zM123 513h1v1h-1zM127 513h3v1h-3zM123 514h1v1h-1zM127 514h1v1h-1zM129 514h1v1h-1zM127 515h1v1h-1zM129 515h1v1h-1zM123 516h1v1h-1zM127 516h1v1h-1zM129 516h1v1h-1zM121 517h1v1h-1zM123 520h1v1h-1zM121 521h1v1h-1zM121 522h1v1h-1zM102 523h1v1h-1zM109 523h1v1h-1zM113 523h1v1h-1zM102 524h2v1h-2zM103 525h2v1h-2zM104 526h1v1h-1zM111 526h1v1h-1zM113 530h2v1h-2zM112 531h2v1h-2zM115 531h1v1h-1zM111 532h1v1h-1zM111 533h2v1h-2zM116 535h1v1h-1zM132 536h1v1h-1zM138 537h1v1h-1zM138 538h1v1h-1zM145 538h1v1h-1zM147 538h2v1h-2zM152 538h1v1h-1zM155 538h2v1h-2zM152 539h2v1h-2zM155 539h2v1h-2zM168 539h1v1h-1zM180 539h1v1h-1z"/><path fill="#0088ff" d="M101 485h1v1h-1zM101 488h1v1h-1zM101 489h1v1h-1zM127 510h2v1h-2zM126 512h1v1h-1zM124 513h3v1h-3zM124 514h3v1h-3zM125 517h1v1h-1zM118 518h1v1h-1zM124 518h1v1h-1zM124 519h1v1h-1zM103 522h1v1h-1zM114 522h1v1h-1zM111 523h2v1h-2zM114 523h1v1h-1zM119 524h1v1h-1zM116 526h2v1h-2zM115 527h2v1h-2zM115 528h2v1h-2zM104 529h1v1h-1zM112 532h2v1h-2zM118 535h1v1h-1zM121 536h1v1h-1zM173 539h1v1h-1zM181 539h3v1h-3z"/><path fill="#00a1ff" d="M130 507h1v1h-1zM130 508h1v1h-1zM130 511h1v1h-1zM124 512h1v1h-1zM121 518h1v1h-1zM122 520h1v1h-1zM122 521h1v1h-1zM115 522h1v1h-1zM115 523h1v1h-1zM106 527h2v1h-2zM104 528h3v1h-3zM107 529h1v1h-1zM114 529h1v1h-1zM112 534h1v1h-1zM116 534h2v1h-2zM124 535h2v1h-2zM124 536h2v1h-2zM135 537h1v1h-1zM139 537h1v1h-1zM143 537h2v1h-2zM151 538h1v1h-1zM164 539h3v1h-3zM171 539h1v1h-1z"/><path fill="#00b1ff" d="M102 486h1v1h-1zM101 487h2v1h-2zM101 491h1v1h-1zM101 500h1v1h-1zM101 503h1v1h-1zM130 509h2v1h-2zM102 513h1v1h-1zM102 514h1v1h-1zM122 518h1v1h-1zM102 522h1v1h-1zM121 523h1v1h-1zM116 525h1v1h-1zM112 529h1v1h-1zM112 530h1v1h-1zM111 534h1v1h-1zM120 534h1v1h-1zM113 535h1v1h-1zM122 536h1v1h-1zM129 536h1v1h-1zM135 536h1v1h-1zM123 537h1v1h-1zM129 537h3v1h-3zM142 537h1v1h-1zM143 538h2v1h-2zM154 538h1v1h-1zM157 539h2v1h-2zM172 539h1v1h-1z"/><path fill="#00c1ff" d="M101 496h2v1h-2zM130 510h1v1h-1zM124 515h2v1h-2zM122 516h1v1h-1zM102 520h1v1h-1zM102 521h1v1h-1zM103 523h1v1h-1zM120 523h1v1h-1zM109 526h1v1h-1zM109 527h1v1h-1zM110 533h1v1h-1zM113 533h2v1h-2zM113 534h2v1h-2zM115 535h1v1h-1zM127 535h3v1h-3zM126 536h3v1h-3zM124 537h1v1h-1zM132 537h1v1h-1zM139 538h1v1h-1zM142 538h1v1h-1zM146 538h1v1h-1zM144 539h1v1h-1zM151 539h1v1h-1z"/><path fill="#00d1ff" d="M101 495h1v1h-1zM101 504h1v1h-1zM101 505h1v1h-1zM124 516h1v1h-1zM123 517h1v1h-1zM121 519h1v1h-1zM116 520h2v1h-2zM121 520h1v1h-1zM116 521h2v1h-2zM120 521h1v1h-1zM112 524h2v1h-2zM112 525h2v1h-2zM103 526h1v1h-1zM103 527h1v1h-1zM119 534h1v1h-1zM119 535h2v1h-2zM140 537h2v1h-2zM133 538h1v1h-1zM149 539h1v1h-1z"/><path fill="#00e1fb" d="M101 497h1v1h-1zM121 516h1v1h-1zM123 518h1v1h-1zM119 520h1v1h-1zM119 523h1v1h-1zM114 524h1v1h-1zM108 527h1v1h-1zM105 529h2v1h-2zM105 530h2v1h-2zM119 536h1v1h-1zM123 536h1v1h-1zM133 536h1v1h-1zM125 537h1v1h-1zM128 537h1v1h-1zM133 537h1v1h-1zM141 538h1v1h-1zM143 539h1v1h-1zM150 539h1v1h-1z"/><path fill="#09f1ee" d="M124 517h1v1h-1zM119 519h1v1h-1zM119 521h1v1h-1zM116 524h1v1h-1zM118 524h1v1h-1zM113 529h1v1h-1zM107 530h1v1h-1zM112 535h1v1h-1zM114 535h1v1h-1zM116 536h1v1h-1zM137 536h1v1h-1zM131 538h1v1h-1zM139 539h1v1h-1z"/><path fill="#0ff9e7" d="M101 498h2v1h-2zM101 499h2v1h-2zM101 506h1v1h-1zM104 530h1v1h-1zM104 531h1v1h-1zM110 534h1v1h-1zM113 536h1v1h-1zM122 537h1v1h-1zM137 539h1v1h-1zM140 539h1v1h-1zM145 539h2v1h-2zM148 539h1v1h-1z"/><path fill="#1cffdb" d="M101 501h1v1h-1zM101 508h1v1h-1zM116 522h1v1h-1zM111 535h1v1h-1zM117 536h1v1h-1zM134 537h1v1h-1zM135 538h1v1h-1zM154 539h1v1h-1z"/><path fill="#23ffd4" d="M101 509h1v1h-1zM119 522h2v1h-2zM114 526h2v1h-2zM109 528h1v1h-1zM110 532h1v1h-1zM120 537h1v1h-1zM141 539h1v1h-1z"/><path fill="#29ffce" d="M122 517h1v1h-1zM116 523h1v1h-1zM118 523h1v1h-1zM110 528h1v1h-1zM105 531h1v1h-1zM115 536h1v1h-1zM120 536h1v1h-1zM127 537h1v1h-1zM140 538h1v1h-1zM142 539h1v1h-1z"/><path fill="#30ffc7" d="M117 523h1v1h-1zM108 528h1v1h-1zM103 531h1v1h-1zM106 531h1v1h-1zM110 535h1v1h-1zM114 536h1v1h-1zM119 537h1v1h-1zM121 537h1v1h-1zM126 537h1v1h-1zM123 538h1v1h-1zM127 538h1v1h-1zM132 538h1v1h-1zM136 539h1v1h-1z"/><path fill="#36ffc1" d="M101 507h1v1h-1zM120 519h1v1h-1zM120 520h1v1h-1zM117 522h1v1h-1zM110 527h1v1h-1zM113 528h1v1h-1zM111 531h1v1h-1zM105 532h1v1h-1zM118 536h1v1h-1zM134 538h1v1h-1z"/><path fill="#3cffba" d="M101 514h1v1h-1zM118 522h1v1h-1zM112 526h1v1h-1zM110 536h1v1h-1zM128 538h2v1h-2zM132 539h1v1h-1zM147 539h1v1h-1z"/><path fill="#43ffb4" d="M101 512h1v1h-1zM101 520h1v1h-1zM115 524h1v1h-1zM117 524h1v1h-1zM114 525h1v1h-1zM103 528h1v1h-1zM112 528h1v1h-1zM103 529h1v1h-1zM104 532h1v1h-1zM109 535h1v1h-1zM117 537h1v1h-1z"/><path fill="#49ffad" d="M101 515h1v1h-1zM118 521h1v1h-1zM115 525h1v1h-1zM109 534h1v1h-1z"/><path fill="#50ffa7" d="M113 526h1v1h-1zM108 529h1v1h-1zM103 530h1v1h-1zM108 535h1v1h-1z"/><path fill="#56ffa0" d="M101 510h1v1h-1zM101 511h1v1h-1zM111 527h1v1h-1zM107 536h2v1h-2zM111 536h1v1h-1zM130 538h1v1h-1zM129 539h1v1h-1zM135 539h1v1h-1z"/><path fill="#5dff9a" d="M102 526h1v1h-1zM112 527h1v1h-1zM109 533h1v1h-1zM114 537h1v1h-1zM118 537h1v1h-1zM134 539h1v1h-1z"/><path fill="#63ff94" d="M101 516h1v1h-1zM101 517h1v1h-1zM101 519h1v1h-1zM110 529h2v1h-2zM115 537h1v1h-1zM124 538h1v1h-1zM138 539h1v1h-1z"/><path fill="#6aff8d" d="M102 527h1v1h-1zM109 530h1v1h-1zM111 530h1v1h-1zM110 531h1v1h-1zM109 536h1v1h-1zM112 536h1v1h-1zM112 537h1v1h-1zM126 538h1v1h-1z"/><path fill="#70ff87" d="M102 528h1v1h-1zM120 538h1v1h-1z"/><path fill="#77ff80" d="M114 527h1v1h-1zM111 528h1v1h-1zM107 531h1v1h-1zM109 532h1v1h-1zM107 535h1v1h-1zM118 538h1v1h-1zM125 538h1v1h-1zM130 539h1v1h-1zM133 539h1v1h-1z"/><path fill="#80ff77" d="M101 513h1v1h-1zM101 518h1v1h-1zM101 521h1v1h-1zM113 527h1v1h-1zM108 530h1v1h-1zM107 532h1v1h-1zM108 533h1v1h-1zM108 534h1v1h-1zM113 537h1v1h-1zM116 537h1v1h-1zM121 538h2v1h-2z"/><path fill="#87ff70" d="M101 523h1v1h-1zM102 529h1v1h-1zM109 529h1v1h-1zM106 532h1v1h-1zM108 532h1v1h-1zM104 533h2v1h-2zM116 538h1v1h-1zM126 539h1v1h-1z"/><path fill="#8dff6a" d="M109 531h1v1h-1zM107 534h1v1h-1zM110 537h1v1h-1zM119 538h1v1h-1z"/><path fill="#94ff63" d="M101 522h1v1h-1zM108 537h1v1h-1zM117 538h1v1h-1zM125 539h1v1h-1zM127 539h2v1h-2zM131 539h1v1h-1z"/><path fill="#9aff5d" d="M110 530h1v1h-1zM106 533h2v1h-2zM107 537h1v1h-1z"/><path fill="#a0ff56" d="M108 531h1v1h-1zM103 532h1v1h-1zM106 536h1v1h-1zM109 537h1v1h-1zM111 537h1v1h-1z"/><path fill="#a7ff50" d="M105 534h1v1h-1zM123 539h2v1h-2z"/><path fill="#adff49" d="M115 538h1v1h-1zM122 539h1v1h-1z"/><path fill="#b4ff43" d="M102 530h1v1h-1zM102 531h1v1h-1zM114 538h1v1h-1zM119 539h2v1h-2z"/><path fill="#baff3c" d="M103 533h1v1h-1zM104 534h1v1h-1zM117 539h1v1h-1z"/><path fill="#c1ff36" d="M106 534h1v1h-1zM113 538h1v1h-1zM121 539h1v1h-1z"/><path fill="#c7ff30" d="M101 524h1v1h-1zM106 535h1v1h-1zM111 538h1v1h-1z"/><path fill="#ceff29" d="M103 534h1v1h-1zM105 536h1v1h-1zM106 537h1v1h-1z"/><path fill="#d4ff23" d="M112 538h1v1h-1zM116 539h1v1h-1zM118 539h1v1h-1z"/><path fill="#dbff1c" d="M101 525h1v1h-1zM104 535h1v1h-1z"/><path fill="#e1ff16" d="M110 538h1v1h-1z"/><path fill="#e7ff0f" d="M105 535h1v1h-1z"/><path fill="#eeff09" d="M103 535h1v1h-1zM104 536h1v1h-1zM105 537h1v1h-1zM107 538h3v1h-3z"/><path fill="#f4f802" d="M102 532h1v1h-1zM115 539h1v1h-1z"/><path fill="#ffea00" d="M102 533h1v1h-1z"/><path fill="#ffe200" d="M113 539h2v1h-2z"/><path fill="#ffcc00" d="M104 537h1v1h-1zM106 538h1v1h-1zM111 539h2v1h-2z"/><path fill="#ffc400" d="M101 526h1v1h-1zM102 534h1v1h-1zM103 536h1v1h-1z"/><path fill="#ffbd00" d="M110 539h1v1h-1z"/><path fill="#ffb600" d="M105 538h1v1h-1zM109 539h1v1h-1z"/><path fill="#ffae00" d="M101 527h1v1h-1z"/><path fill="#ff9f00" d="M103 537h1v1h-1z"/><path fill="#ff9800" d="M102 535h1v1h-1zM107 539h2v1h-2z"/><path fill="#ff9100" d="M104 538h1v1h-1z"/><path fill="#ff8200" d="M102 536h1v1h-1z"/><path fill="#ff7a00" d="M101 528h1v1h-1z"/><path fill="#ff6c00" d="M103 538h1v1h-1zM106 539h1v1h-1z"/><path fill="#ff6400" d="M105 539h1v1h-1z"/><path fill="#ff5d00" d="M102 537h1v1h-1z"/><path fill="#ff5500" d="M101 529h1v1h-1z"/><path fill="#ff3f00" d="M104 539h1v1h-1z"/><path fill="#ff3000" d="M101 530h1v1h-1zM102 538h1v1h-1z"/><path fill="#ff1300" d="M103 539h1v1h-1z"/><path fill="#f60b00" d="M101 531h1v1h-1z"/><path fill="#c80000" d="M101 532h1v1h-1z"/><path fill="#bf0000" d="M102 539h1v1h-1z"/><path fill="#ad0000" d="M101 533h1v1h-1z"/><path fill="#890000" d="M101 534h1v1h-1z"/><path fill="#800000" d="M101 535h1v1h-1zM101 536h1v1h-1zM101 537h1v1h-1zM101 538h1v1h-1zM101 539h1v1h-1z"/></g><g font-family="DejaVu Sans, sans-serif" font-size="16.67px" fill="#000" text-anchor="middle"><text x="400" y="23.8">31 day GCR cross plot data derived from 2422962 accumulated seconds</text><text x="413.6" y="41.7">from 2015-03-24 DOY:083</text><text x="400" y="59.8">through 2015-04-23 DOY:113</text></g><rect x="100.5" y="72.5" width="496" height="468" fill="none" stroke="#000" stroke-width="1.25"/><path d="M100.5 540.5v-5.6M100.5 72.5v5.6M100.5 540.5h5.6M596.5 540.5h-5.6M199.5 540.5v-5.6M199.5 72.5v5.6M100.5 446.5h5.6M596.5 446.5h-5.6M298.5 540.5v-5.6M298.5 72.5v5.6M100.5 353.5h5.6M596.5 353.5h-5.6M398.5 540.5v-5.6M398.5 72.5v5.6M100.5 259.5h5.6M596.5 259.5h-5.6M497.5 540.5v-5.6M497.5 72.5v5.6M100.5 166.5h5.6M596.5 166.5h-5.6M596.5 540.5v-5.6M596.5 72.5v5.6M100.5 72.5h5.6M596.5 72.5h-5.6" stroke="#000" stroke-width="0.75" fill="none"/><g font-family="DejaVu Sans, sans-serif" font-size="16.67px" fill="#000"><text x="99.5" y="557.0" text-anchor="middle">0</text><text x="95.3" y="546.0" text-anchor="end">0</text><text x="198.7" y="557.0" text-anchor="middle">100</text><text x="95.3" y="452.0" text-anchor="end">100</text><text x="297.9" y="557.0" text-anchor="middle">200</text><text x="95.3" y="358.0" text-anchor="end">200</text><text x="397.1" y="557.0" text-anchor="middle">300</text><text x="95.3" y="265.0" text-anchor="end">300</text><text x="496.3" y="557.0" text-anchor="middle">400</text><text x="95.3" y="171.0" text-anchor="end">400</text><text x="595.5" y="557.0" text-anchor="middle">500</text><text x="95.3" y="78.0" text-anchor="end">500</text><text x="348" y="576" text-anchor="middle">LET in D3&amp;4 (keV/micron)</text><text transform="translate(53.8,306) rotate(-90)" text-anchor="middle">LET in D5&amp;6 (keV/micron)</text><rect x="627" y="72" width="23.4" height="468" fill="url(#jet)"/><rect x="627.5" y="72.5" width="23" height="467" fill="none" stroke="#000" stroke-width="1.2"/><text x="654" y="546.0">1</text><text x="654" y="390.0">10</text><text x="654" y="234.0">100</text><text x="654" y="78.0">1000</text><path d="M644.9 384.5h5.6M644.9 228.5h5.6" stroke="#000" stroke-width="0.75"/><text transform="translate(713,306.5) rotate(-90)" text-anchor="middle">Counts</text></g></svg></body></html>
